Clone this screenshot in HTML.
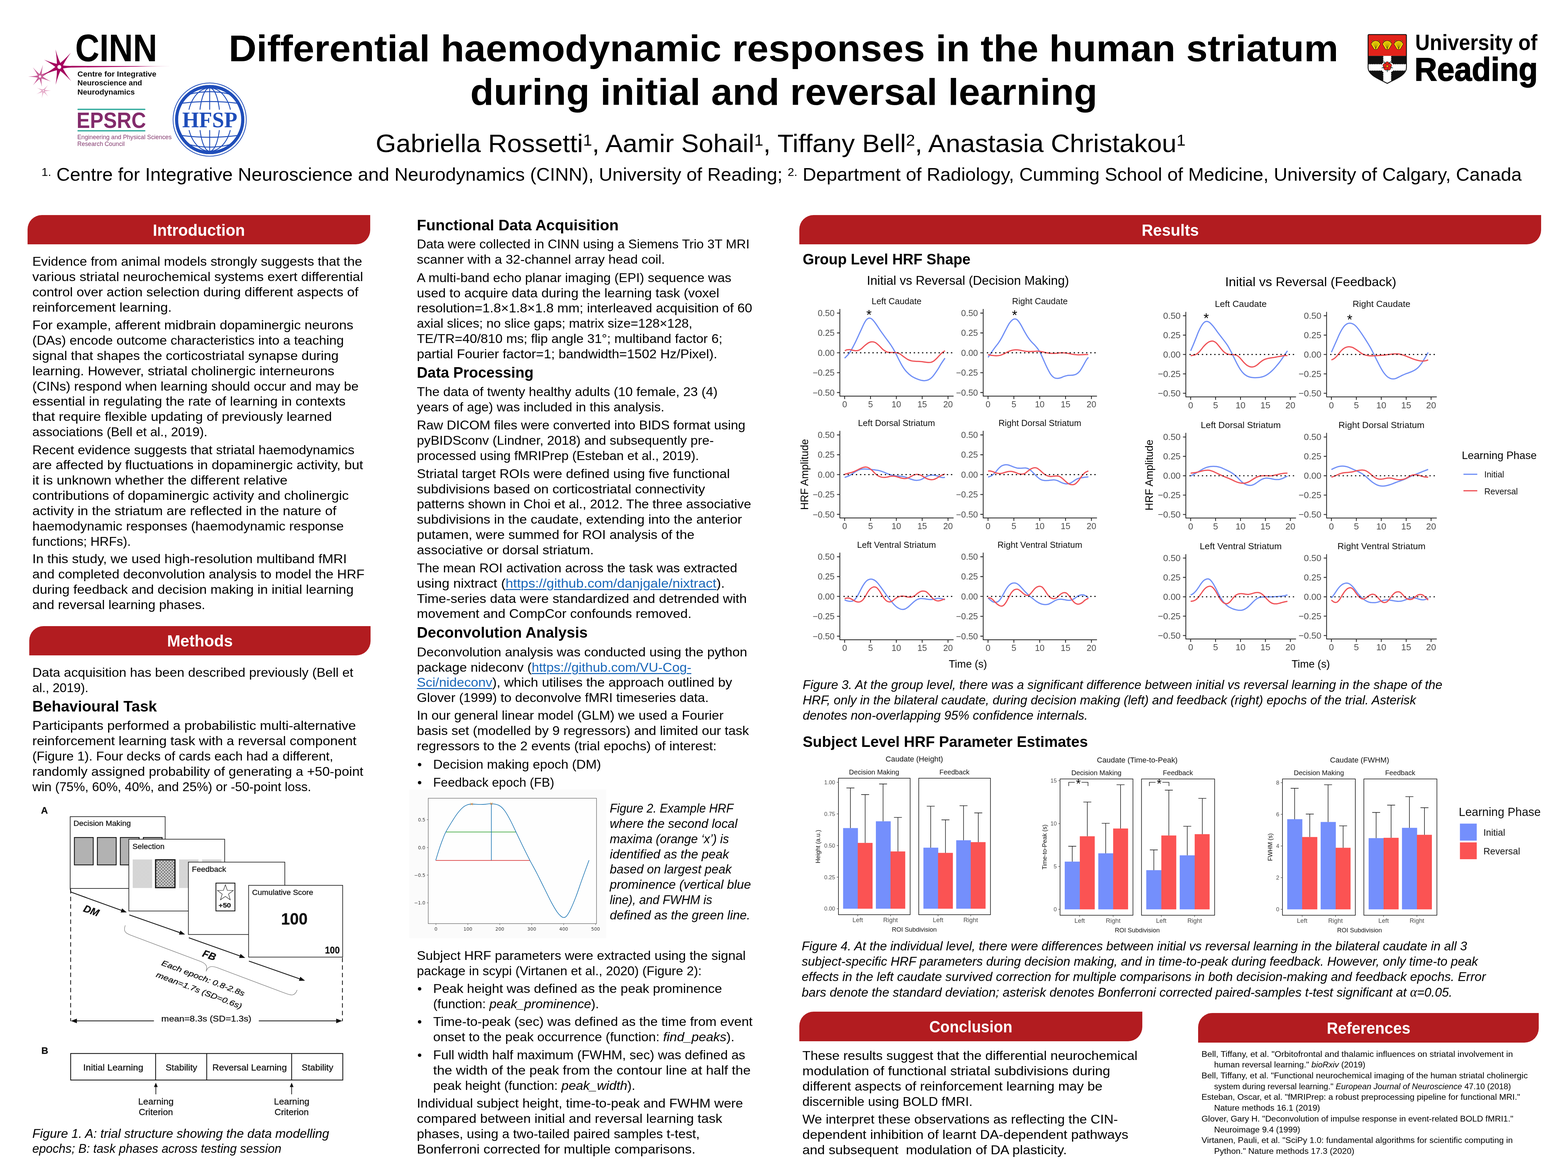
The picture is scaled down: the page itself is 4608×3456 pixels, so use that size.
<!DOCTYPE html>
<html lang="en"><head><meta charset="utf-8">
<title>Differential haemodynamic responses in the human striatum during initial and reversal learning</title>
<style>
html,body{margin:0;padding:0;background:#fff}
#poster{position:relative;width:4608px;height:3456px;overflow:hidden;background:#fff;font-family:"Liberation Sans",sans-serif;color:#000}
.t{position:absolute;white-space:nowrap;line-height:1;transform-origin:0 0;font-family:"Liberation Sans",sans-serif}
.sf{font-family:"Liberation Serif",serif}
.b{font-weight:bold}
.i{font-style:italic}
.w{color:#fff}
.g{color:#4d4d4d}
.lk{color:#1a67b9;text-decoration:underline;text-decoration-thickness:2.5px;text-underline-offset:4px}
.bn{position:absolute;background:#b21c20;border-radius:42px 0 42px 0}
.abs{position:absolute}
sup.s{font-size:62%;vertical-align:baseline;position:relative;top:-0.42em;line-height:0}
svg{position:absolute;overflow:visible}
svg text{font-family:"Liberation Sans",sans-serif}
svg.f1 text{stroke:#111;stroke-width:.4px}

</style></head>
<body>
<div id="poster">
<div class="bn" style="left:81px;top:632px;width:1007.0px;height:86.0px"></div>
<div class="bn" style="left:86px;top:1840px;width:1002.5px;height:85.5px"></div>
<div class="bn" style="left:2349px;top:631.5px;width:2180.0px;height:86.5px"></div>
<div class="bn" style="left:2349px;top:2973px;width:1008.0px;height:86.6px"></div>
<div class="bn" style="left:3521px;top:2977px;width:1001.0px;height:86.7px"></div>
<svg width="4608" height="640" viewBox="0 0 4608 640" style="left:0;top:0">
<defs><linearGradient id="axg" x1="0" x2="1" y1="0" y2="0"><stop offset="0" stop-color="#a3055e"/><stop offset="0.7" stop-color="#b5156f"/><stop offset="1" stop-color="#d67fb0" stop-opacity="0.2"/></linearGradient></defs>
<path d="M129.6,268.5Q132.9,260.8 140.6,250.1Q131.8,259.9 125.0,264.7ZM127.4,269.6Q135.8,267.1 149.6,266.0Q135.8,265.7 127.2,263.6ZM125.0,268.5Q132.2,273.6 141.6,283.9Q133.3,272.7 129.6,264.7ZM124.4,266.0Q124.9,274.9 122.7,288.9Q126.2,275.2 130.2,267.2ZM125.9,263.9Q119.2,269.9 106.8,277.0Q119.8,271.2 128.7,269.3ZM128.6,263.9Q120.6,262.7 108.8,258.1Q120.0,264.0 126.0,269.3Z" fill="#e3a5c5"/><circle cx="127.3" cy="266.6" r="4.7" fill="#e3a5c5"/><circle cx="127.3" cy="266.6" r="1.9" fill="#fff"/>
<path d="M117.7,219.9Q104.5,223.7 82.9,224.9Q104.5,226.1 117.7,229.9ZM121.6,221.9Q110.5,213.7 96.3,197.4Q108.6,215.2 113.8,227.9ZM122.5,226.1Q122.0,212.1 126.1,190.5Q119.7,211.5 112.9,223.7ZM115.6,229.4Q129.3,231.6 149.6,239.6Q130.3,229.4 119.8,220.4ZM113.8,221.8Q108.9,234.0 96.9,250.7Q110.7,235.4 121.6,228.0ZM112.8,225.8Q118.7,236.6 123.3,255.1Q121.0,236.2 122.6,224.0ZM120.0,229.3Q134.3,217.6 160.0,203.0Q133.2,215.5 115.4,220.5Z" fill="#c9609a"/><circle cx="117.7" cy="224.9" r="7.7" fill="#c9609a"/><circle cx="117.7" cy="224.9" r="3.4" fill="#fff"/>
<path d="M182.0,195.1Q171.9,176.8 163.1,145.3Q168.3,177.6 166.8,198.5ZM180.5,201.7Q188.7,182.0 208.3,154.7Q185.8,179.6 168.3,191.9ZM177.7,189.8Q158.2,187.0 129.7,175.5Q156.6,190.4 171.1,203.8ZM166.8,195.2Q168.5,216.3 163.5,249.1Q172.1,217.1 182.0,198.4ZM168.4,201.8Q186.1,213.7 208.9,238.2Q188.9,211.3 180.4,191.8ZM171.0,189.8Q154.8,204.3 125.0,221.0Q156.4,207.7 177.8,203.8Z" fill="#a6065f"/><circle cx="174.4" cy="196.8" r="12.2" fill="#a6065f"/><circle cx="174.4" cy="196.8" r="5.6" fill="#fff"/>
<path d="M178,191.5 C195,193.6 200,193.8 215,193.6 L497.7,194.2 L497.7,194.7 L215,198.4 C200,198.6 195,199.5 178,202Z" fill="url(#axg)"/>
<circle cx="174.4" cy="196.8" r="5.6" fill="#fff"/>
<text x="221" y="179.9" font-size="113" font-weight="bold" textLength="241" lengthAdjust="spacingAndGlyphs">CINN</text>
<g font-size="21.5" font-weight="bold" fill="#0a0a0a"><text x="227.6" y="225.3" textLength="232" lengthAdjust="spacingAndGlyphs">Centre for Integrative</text><text x="227.6" y="251.1" textLength="190" lengthAdjust="spacingAndGlyphs">Neuroscience and</text><text x="227.6" y="278" textLength="168.5" lengthAdjust="spacingAndGlyphs">Neurodynamics</text></g>
<g stroke="#2ca89b" stroke-width="3.7" stroke-linecap="round"><line x1="229.4" y1="321.4" x2="425.5" y2="321.4"/><line x1="229.4" y1="384.3" x2="425.5" y2="384.3"/></g>
<text x="225" y="375.7" font-size="65.5" font-weight="bold" fill="#832b6b" textLength="204" lengthAdjust="spacingAndGlyphs">EPSRC</text>
<g font-size="18.2" fill="#843a6f"><text x="227.3" y="409" textLength="277" lengthAdjust="spacingAndGlyphs">Engineering and Physical Sciences</text><text x="227.3" y="428.5" textLength="139" lengthAdjust="spacingAndGlyphs">Research Council</text></g>
<g fill="none" stroke="#1f4db9"><circle cx="616.2" cy="351.4" r="107.6" stroke-width="2.2"/><circle cx="616.2" cy="351.4" r="97.2" stroke-width="9"/>
<g stroke-width="2.6"><line x1="616.2" y1="258.4" x2="616.2" y2="444.4"/><ellipse cx="616.2" cy="351.4" rx="30" ry="93"/><ellipse cx="616.2" cy="351.4" rx="64" ry="93"/>
<path d="M559.2,276.4 Q616.2,262.4 673.2,276.4"/>
<path d="M535.2,303.4 Q616.2,293.4 697.2,303.4"/>
<path d="M535.2,398.4 Q616.2,408.4 697.2,398.4"/>
<path d="M559.2,425.4 Q616.2,439.4 673.2,425.4"/>
</g></g>
<rect x="523.7" y="322.4" width="185" height="60" fill="#fff"/>
<circle cx="616.2" cy="351.4" r="97.2" stroke-width="9" fill="none" stroke="#1f4db9"/>
<text x="535.5" y="374.2" font-family="Liberation Serif,serif" font-weight="bold" font-size="66" fill="#1f4db9" textLength="162" lengthAdjust="spacingAndGlyphs" style="font-family:'Liberation Serif',serif">HFSP</text>
<clipPath id="shc"><path d="M4023.5,101.5 L4130.2,101.5 Q4133.2,101.5 4133.2,104.5 L4133.2,199 C4133.2,221 4098.85,233 4076.85,245 C4054.85,233 4020.5,221 4020.5,199 L4020.5,104.5 Q4020.5,101.5 4023.5,101.5Z"/></clipPath>
<path d="M4023.5,101.5 L4130.2,101.5 Q4133.2,101.5 4133.2,104.5 L4133.2,199 C4133.2,221 4098.85,233 4076.85,245 C4054.85,233 4020.5,221 4020.5,199 L4020.5,104.5 Q4020.5,101.5 4023.5,101.5Z" fill="#fff"/>
<g clip-path="url(#shc)">
<rect x="4020.5" y="101.5" width="112.69999999999982" height="62.69999999999999" fill="#e2231a"/>
<rect x="4020.5" y="164.2" width="112.69999999999982" height="80.80000000000001" fill="#111"/>
<rect x="4063.0" y="164.2" width="27.5" height="80.80000000000001" fill="#fff"/>
<rect x="4020.5" y="186.5" width="112.69999999999982" height="23.0" fill="#fff"/>
<g fill="#111"><circle cx="4063.0" cy="166.8" r="2.6"/><circle cx="4090.5" cy="166.8" r="2.6"/><circle cx="4063.0" cy="172.0" r="2.6"/><circle cx="4090.5" cy="172.0" r="2.6"/><circle cx="4063.0" cy="177.2" r="2.6"/><circle cx="4090.5" cy="177.2" r="2.6"/><circle cx="4063.0" cy="182.4" r="2.6"/><circle cx="4090.5" cy="182.4" r="2.6"/><circle cx="4063.0" cy="213.6" r="2.6"/><circle cx="4090.5" cy="213.6" r="2.6"/><circle cx="4063.0" cy="218.8" r="2.6"/><circle cx="4090.5" cy="218.8" r="2.6"/><circle cx="4063.0" cy="224.0" r="2.6"/><circle cx="4090.5" cy="224.0" r="2.6"/><circle cx="4063.0" cy="229.2" r="2.6"/><circle cx="4090.5" cy="229.2" r="2.6"/><circle cx="4063.0" cy="234.4" r="2.6"/><circle cx="4090.5" cy="234.4" r="2.6"/><circle cx="4063.0" cy="239.6" r="2.6"/><circle cx="4090.5" cy="239.6" r="2.6"/><circle cx="4063.0" cy="244.8" r="2.6"/><circle cx="4090.5" cy="244.8" r="2.6"/><circle cx="4023.1" cy="186.5" r="2.6"/><circle cx="4023.1" cy="209.5" r="2.6"/><circle cx="4028.3" cy="186.5" r="2.6"/><circle cx="4028.3" cy="209.5" r="2.6"/><circle cx="4033.5" cy="186.5" r="2.6"/><circle cx="4033.5" cy="209.5" r="2.6"/><circle cx="4038.7" cy="186.5" r="2.6"/><circle cx="4038.7" cy="209.5" r="2.6"/><circle cx="4043.9" cy="186.5" r="2.6"/><circle cx="4043.9" cy="209.5" r="2.6"/><circle cx="4049.1" cy="186.5" r="2.6"/><circle cx="4049.1" cy="209.5" r="2.6"/><circle cx="4054.3" cy="186.5" r="2.6"/><circle cx="4054.3" cy="209.5" r="2.6"/><circle cx="4059.5" cy="186.5" r="2.6"/><circle cx="4059.5" cy="209.5" r="2.6"/><circle cx="4095.9" cy="186.5" r="2.6"/><circle cx="4095.9" cy="209.5" r="2.6"/><circle cx="4101.1" cy="186.5" r="2.6"/><circle cx="4101.1" cy="209.5" r="2.6"/><circle cx="4106.3" cy="186.5" r="2.6"/><circle cx="4106.3" cy="209.5" r="2.6"/><circle cx="4111.5" cy="186.5" r="2.6"/><circle cx="4111.5" cy="209.5" r="2.6"/><circle cx="4116.7" cy="186.5" r="2.6"/><circle cx="4116.7" cy="209.5" r="2.6"/><circle cx="4121.9" cy="186.5" r="2.6"/><circle cx="4121.9" cy="209.5" r="2.6"/><circle cx="4127.1" cy="186.5" r="2.6"/><circle cx="4127.1" cy="209.5" r="2.6"/><circle cx="4132.3" cy="186.5" r="2.6"/><circle cx="4132.3" cy="209.5" r="2.6"/></g>
</g>
<g>
<path d="M4076.8,194.5 L4080.4,186.2 L4087.1,180.3 L4083.6,188.5Z" fill="#1f8f7d" stroke="#111" stroke-width="0.8"/>
<path d="M4076.8,194.5 L4085.8,195.3 L4093.5,199.9 L4084.6,199.1Z" fill="#1f8f7d" stroke="#111" stroke-width="0.8"/>
<path d="M4076.8,194.5 L4078.8,203.3 L4076.8,212.0 L4074.9,203.3Z" fill="#1f8f7d" stroke="#111" stroke-width="0.8"/>
<path d="M4076.8,194.5 L4069.1,199.1 L4060.2,199.9 L4067.9,195.3Z" fill="#1f8f7d" stroke="#111" stroke-width="0.8"/>
<path d="M4076.8,194.5 L4070.1,188.5 L4066.6,180.3 L4073.3,186.2Z" fill="#1f8f7d" stroke="#111" stroke-width="0.8"/>
<circle cx="4076.8" cy="187.5" r="6.2" fill="#e2231a" stroke="#111" stroke-width="1"/>
<circle cx="4083.5" cy="192.3" r="6.2" fill="#e2231a" stroke="#111" stroke-width="1"/>
<circle cx="4081.0" cy="200.2" r="6.2" fill="#e2231a" stroke="#111" stroke-width="1"/>
<circle cx="4072.7" cy="200.2" r="6.2" fill="#e2231a" stroke="#111" stroke-width="1"/>
<circle cx="4070.2" cy="192.3" r="6.2" fill="#e2231a" stroke="#111" stroke-width="1"/>
<circle cx="4076.85" cy="194.5" r="6" fill="#e2231a"/><circle cx="4076.85" cy="194.5" r="3" fill="#ffd200" stroke="#111" stroke-width="0.8"/></g>
<path d="M4038.5,145.0 L4029.8,130.4 Q4028.5,126.5 4032.3,125.9 Q4032.3,121.8 4036.0,122.5 Q4037.3,118.8 4040.6,120.7 Q4043.0,117.7 4045.4,120.7 Q4048.7,118.8 4050.0,122.5 Q4053.7,121.8 4053.7,125.9 Q4057.5,126.5 4056.2,130.4 L4047.5,145.0 Z" fill="#ffe100" stroke="#1a1a1a" stroke-width="1.10" stroke-linejoin="round"/><line x1="4043.0" y1="143.5" x2="4033.3" y2="126.8" stroke="#1a1a1a" stroke-width="0.60"/><line x1="4043.0" y1="143.5" x2="4036.7" y2="123.8" stroke="#1a1a1a" stroke-width="0.60"/><line x1="4043.0" y1="143.5" x2="4040.8" y2="122.2" stroke="#1a1a1a" stroke-width="0.60"/><line x1="4043.0" y1="143.5" x2="4045.2" y2="122.2" stroke="#1a1a1a" stroke-width="0.60"/><line x1="4043.0" y1="143.5" x2="4049.3" y2="123.8" stroke="#1a1a1a" stroke-width="0.60"/><line x1="4043.0" y1="143.5" x2="4052.7" y2="126.8" stroke="#1a1a1a" stroke-width="0.60"/><path d="M4034.0,122.5 l-2.5,-4.0 l5.0,1.0Z M4052.0,122.5 l2.5,-4.0 l-5.0,1.0Z" fill="#ffe100" stroke="#1a1a1a" stroke-width="0.80"/>
<path d="M4072.2,145.0 L4063.5,130.4 Q4062.2,126.5 4066.0,125.9 Q4066.0,121.8 4069.7,122.5 Q4071.0,118.8 4074.3,120.7 Q4076.7,117.7 4079.1,120.7 Q4082.4,118.8 4083.7,122.5 Q4087.4,121.8 4087.4,125.9 Q4091.2,126.5 4089.9,130.4 L4081.2,145.0 Z" fill="#ffe100" stroke="#1a1a1a" stroke-width="1.10" stroke-linejoin="round"/><line x1="4076.7" y1="143.5" x2="4067.0" y2="126.8" stroke="#1a1a1a" stroke-width="0.60"/><line x1="4076.7" y1="143.5" x2="4070.4" y2="123.8" stroke="#1a1a1a" stroke-width="0.60"/><line x1="4076.7" y1="143.5" x2="4074.5" y2="122.2" stroke="#1a1a1a" stroke-width="0.60"/><line x1="4076.7" y1="143.5" x2="4078.9" y2="122.2" stroke="#1a1a1a" stroke-width="0.60"/><line x1="4076.7" y1="143.5" x2="4083.0" y2="123.8" stroke="#1a1a1a" stroke-width="0.60"/><line x1="4076.7" y1="143.5" x2="4086.4" y2="126.8" stroke="#1a1a1a" stroke-width="0.60"/><path d="M4067.7,122.5 l-2.5,-4.0 l5.0,1.0Z M4085.7,122.5 l2.5,-4.0 l-5.0,1.0Z" fill="#ffe100" stroke="#1a1a1a" stroke-width="0.80"/>
<path d="M4105.8,145.0 L4097.1,130.4 Q4095.8,126.5 4099.6,125.9 Q4099.6,121.8 4103.3,122.5 Q4104.6,118.8 4107.9,120.7 Q4110.3,117.7 4112.7,120.7 Q4116.0,118.8 4117.3,122.5 Q4121.0,121.8 4121.0,125.9 Q4124.8,126.5 4123.5,130.4 L4114.8,145.0 Z" fill="#ffe100" stroke="#1a1a1a" stroke-width="1.10" stroke-linejoin="round"/><line x1="4110.3" y1="143.5" x2="4100.6" y2="126.8" stroke="#1a1a1a" stroke-width="0.60"/><line x1="4110.3" y1="143.5" x2="4104.0" y2="123.8" stroke="#1a1a1a" stroke-width="0.60"/><line x1="4110.3" y1="143.5" x2="4108.1" y2="122.2" stroke="#1a1a1a" stroke-width="0.60"/><line x1="4110.3" y1="143.5" x2="4112.5" y2="122.2" stroke="#1a1a1a" stroke-width="0.60"/><line x1="4110.3" y1="143.5" x2="4116.6" y2="123.8" stroke="#1a1a1a" stroke-width="0.60"/><line x1="4110.3" y1="143.5" x2="4120.0" y2="126.8" stroke="#1a1a1a" stroke-width="0.60"/><path d="M4101.3,122.5 l-2.5,-4.0 l5.0,1.0Z M4119.3,122.5 l2.5,-4.0 l-5.0,1.0Z" fill="#ffe100" stroke="#1a1a1a" stroke-width="0.80"/>
<path d="M4023.5,101.5 L4130.2,101.5 Q4133.2,101.5 4133.2,104.5 L4133.2,199 C4133.2,221 4098.85,233 4076.85,245 C4054.85,233 4020.5,221 4020.5,199 L4020.5,104.5 Q4020.5,101.5 4023.5,101.5Z" fill="none" stroke="#111" stroke-width="2.6"/>
<text x="4159" y="147.4" font-size="65" font-weight="bold" textLength="359" lengthAdjust="spacingAndGlyphs">University of</text>
<text x="4157" y="236.6" font-size="96" font-weight="bold" stroke="#000" stroke-width="2.2" textLength="362" lengthAdjust="spacingAndGlyphs">Reading</text>
</svg>
<svg width="1152" height="1000" viewBox="0 2340 1152 1000" class="f1" style="left:0;top:2340px">
<defs><pattern id="pd" width="4" height="4" patternUnits="userSpaceOnUse"><rect width="4" height="4" fill="#c4c4c4"/><circle cx="1" cy="1" r="0.9" fill="#8f8f8f"/><circle cx="3" cy="3" r="0.9" fill="#8f8f8f"/></pattern><pattern id="pl" width="4" height="4" patternUnits="userSpaceOnUse"><rect width="4" height="4" fill="#dcdcdc"/><circle cx="1" cy="1" r="0.9" fill="#c9c9c9"/><circle cx="3" cy="3" r="0.9" fill="#c9c9c9"/></pattern><pattern id="ps" width="9" height="9" patternUnits="userSpaceOnUse"><rect width="9" height="9" fill="#d0d0d0"/><circle cx="2.2" cy="2.2" r="1.9" fill="#555"/><circle cx="6.7" cy="6.7" r="1.9" fill="#555"/><circle cx="6.7" cy="2.2" r="1" fill="#999"/><circle cx="2.2" cy="6.7" r="1" fill="#999"/></pattern><marker id="ah" markerWidth="9" markerHeight="7" refX="8.5" refY="3.5" orient="auto" markerUnits="userSpaceOnUse" viewBox="0 0 9 7"><path d="M0,0 L9,3.5 L0,7Z"/></marker></defs>
<text x="120.5" y="2391.3" font-size="28" font-weight="bold" fill="#111">A</text>
<rect x="206.3" y="2399.9" width="279.1" height="211" fill="#fff" stroke="#111" stroke-width="1.8"/>
<text x="216" y="2427.3" font-size="22.3" fill="#111" textLength="168.5" lengthAdjust="spacingAndGlyphs">Decision Making</text>
<rect x="218.6" y="2461.2" width="55.4" height="80.6" fill="url(#pd)" stroke="#111" stroke-width="2.4"/>
<rect x="286.1" y="2461.2" width="55.4" height="80.6" fill="url(#pd)" stroke="#111" stroke-width="2.4"/>
<rect x="353.6" y="2461.2" width="55.4" height="80.6" fill="url(#pd)" stroke="#111" stroke-width="2.4"/>
<rect x="421.1" y="2461.2" width="55.4" height="80.6" fill="url(#pd)" stroke="#111" stroke-width="2.4"/>
<rect x="378.6" y="2466.3" width="281.7" height="211" fill="#fff" stroke="#111" stroke-width="1.8"/>
<text x="389.2" y="2494.5" font-size="22.3" fill="#111" textLength="94.2" lengthAdjust="spacingAndGlyphs">Selection</text>
<rect x="390" y="2525.8" width="57.2" height="83.8" fill="url(#pl)"/>
<rect x="526.2" y="2525.8" width="57.2" height="83.8" fill="url(#pl)"/>
<rect x="593.9" y="2525.8" width="57.2" height="83.8" fill="url(#pl)"/>
<rect x="457.2" y="2526.8" width="57" height="81.8" fill="url(#ps)" stroke="#111" stroke-width="3.4"/>
<rect x="553.6" y="2533.6" width="283.4" height="212.7" fill="#fff" stroke="#111" stroke-width="1.8"/>
<text x="564" y="2561.8" font-size="22.3" fill="#111" textLength="100.5" lengthAdjust="spacingAndGlyphs">Feedback</text>
<rect x="634.6" y="2595.2" width="55.8" height="81.8" fill="#fff" stroke="#111" stroke-width="2.4"/>
<polygon points="662.3,2600.0 668.1,2616.6 685.6,2616.9 671.6,2627.5 676.7,2644.3 662.3,2634.3 647.9,2644.3 653.0,2627.5 639.0,2616.9 656.5,2616.6" fill="#fff" stroke="#111" stroke-width="1.3"/>
<text x="660.6" y="2666.9" font-size="17.5" font-weight="bold" fill="#222" text-anchor="middle" textLength="36.5" lengthAdjust="spacingAndGlyphs">+50</text>
<rect x="730.6" y="2601.8" width="276.5" height="210.9" fill="#fff" stroke="#111" stroke-width="1.8"/>
<text x="740.7" y="2630" font-size="22.3" fill="#111" textLength="179.7" lengthAdjust="spacingAndGlyphs">Cumulative Score</text>
<text x="865" y="2717.4" font-size="48" font-weight="bold" fill="#111" text-anchor="middle" textLength="78" lengthAdjust="spacingAndGlyphs">100</text>
<text x="976.7" y="2801.8" font-size="29" font-weight="bold" fill="#111" text-anchor="middle" textLength="43.5" lengthAdjust="spacingAndGlyphs">100</text>
<g stroke="#111" stroke-width="2.4" fill="#111">
<path d="M206.3,2611.5 L208.5,2621.7 L366,2678.7" fill="none"/>
<line x1="380" y1="2688.6" x2="537.5" y2="2744"/>
<line x1="554.9" y1="2755.8" x2="714.3" y2="2812.6"/>
<line x1="731.5" y1="2824.4" x2="890" y2="2879.9"/>
</g>
<polygon points="372.6,2681.2 354.5,2681.5 358.7,2669.6" fill="#111"/>
<polygon points="544,2746.3 525.9,2746.6 530.1,2734.7" fill="#111"/>
<polygon points="720.7,2814.9 702.6,2815.2 706.8,2803.3" fill="#111"/>
<polygon points="896.4,2882.1 878.3,2882.4 882.5,2870.5" fill="#111"/>
<text transform="translate(268.4,2676) rotate(20)" font-size="30" font-weight="bold" font-style="italic" text-anchor="middle" y="10.5" fill="#111">DM</text>
<text transform="translate(615.2,2807) rotate(20)" font-size="30" font-weight="bold" font-style="italic" text-anchor="middle" y="10.5" fill="#111">FB</text>
<path transform="translate(368.2,2719.4) rotate(20.6)" fill="none" stroke="#555" stroke-width="1.1" d="M0,0 C0,21.5 12,21.5 30,21.5 L243.8,21.5 C261.8,21.5 269.8,27.5 269.8,43.0 C269.8,27.5 277.8,21.5 295.8,21.5 L509.6,21.5 C527.6,21.5 539.6,21.5 539.6,0"/>
<text transform="translate(597,2874.3) rotate(20.8)" font-size="22.5" font-style="italic" text-anchor="middle" y="8" fill="#111" textLength="259" lengthAdjust="spacingAndGlyphs">Each epoch: 0.8-2.8s</text>
<text transform="translate(585.2,2910.3) rotate(20.8)" font-size="22.5" font-style="italic" text-anchor="middle" y="8" fill="#111" textLength="268" lengthAdjust="spacingAndGlyphs">mean=1.7s (SD=0.6s)</text>
<g stroke="#111" stroke-width="2.3" stroke-dasharray="13 9.3"><line x1="207.6" y1="2613" x2="207.6" y2="3001"/><line x1="1006.3" y1="2814.5" x2="1006.3" y2="3001"/></g>
<g stroke="#111" stroke-width="2.2"><line x1="222" y1="3000.2" x2="452.4" y2="3000.2"/><line x1="760.6" y1="3000.2" x2="991" y2="3000.2"/></g>
<polygon points="208.3,3000.2 226,2993.5 226,3007" fill="#111"/><polygon points="1005.5,3000.2 988,2993.5 988,3007" fill="#111"/>
<text x="606.5" y="3001.5" font-size="23.5" text-anchor="middle" fill="#111" textLength="264.8" lengthAdjust="spacingAndGlyphs">mean=8.3s (SD=1.3s)</text>
<text x="121.5" y="3096.7" font-size="28" font-weight="bold" fill="#111">B</text>
<rect x="207.7" y="3096" width="799.7" height="78" fill="#fff" stroke="#111" stroke-width="2.4"/>
<g stroke="#111" stroke-width="2.4"><line x1="457.3" y1="3096" x2="457.3" y2="3174"/><line x1="607.5" y1="3096" x2="607.5" y2="3174"/><line x1="857.1" y1="3096" x2="857.1" y2="3174"/></g>
<text x="332.8" y="3146.3" font-size="25.5" text-anchor="middle" fill="#111" textLength="176.5" lengthAdjust="spacingAndGlyphs">Initial Learning</text>
<text x="533.1" y="3146.3" font-size="25.5" text-anchor="middle" fill="#111" textLength="92.9" lengthAdjust="spacingAndGlyphs">Stability</text>
<text x="733.4" y="3146.3" font-size="25.5" text-anchor="middle" fill="#111" textLength="219" lengthAdjust="spacingAndGlyphs">Reversal Learning</text>
<text x="933" y="3146.3" font-size="25.5" text-anchor="middle" fill="#111" textLength="92.9" lengthAdjust="spacingAndGlyphs">Stability</text>
<line x1="458" y1="3216" x2="458" y2="3192" stroke="#111" stroke-width="2"/><polygon points="458,3181.8 452.5,3194.5 463.5,3194.5" fill="#111"/>
<text x="458" y="3245.5" font-size="25.5" text-anchor="middle" fill="#111" textLength="104.2" lengthAdjust="spacingAndGlyphs">Learning</text>
<text x="458" y="3277.4" font-size="25.5" text-anchor="middle" fill="#111" textLength="100.7" lengthAdjust="spacingAndGlyphs">Criterion</text>
<line x1="857.1" y1="3216" x2="857.1" y2="3192" stroke="#111" stroke-width="2"/><polygon points="857.1,3181.8 851.6,3194.5 862.6,3194.5" fill="#111"/>
<text x="857.1" y="3245.5" font-size="25.5" text-anchor="middle" fill="#111" textLength="104.2" lengthAdjust="spacingAndGlyphs">Learning</text>
<text x="857.1" y="3277.4" font-size="25.5" text-anchor="middle" fill="#111" textLength="100.7" lengthAdjust="spacingAndGlyphs">Criterion</text>
</svg>
<svg width="640" height="480" viewBox="1180 2300 640 480" style="left:1180px;top:2300px">
<rect x="1202.4" y="2320.5" width="579.6" height="436.5" fill="#fbfbfb"/>
<rect x="1258.5" y="2345.9" width="494.5" height="368.4" fill="#fefefe" stroke="#3a3a3a" stroke-width="1.1"/>
<line x1="1281.1" y1="2714.3" x2="1281.1" y2="2718.3" stroke="#3a3a3a" stroke-width="1"/>
<text x="1281.1" y="2735.3" text-anchor="middle" font-family="DejaVu Sans,sans-serif" style="font-family:'DejaVu Sans',sans-serif" font-size="13.6" fill="#3a3a3a">0</text>
<line x1="1374.9" y1="2714.3" x2="1374.9" y2="2718.3" stroke="#3a3a3a" stroke-width="1"/>
<text x="1374.9" y="2735.3" text-anchor="middle" font-family="DejaVu Sans,sans-serif" style="font-family:'DejaVu Sans',sans-serif" font-size="13.6" fill="#3a3a3a">100</text>
<line x1="1468.8" y1="2714.3" x2="1468.8" y2="2718.3" stroke="#3a3a3a" stroke-width="1"/>
<text x="1468.8" y="2735.3" text-anchor="middle" font-family="DejaVu Sans,sans-serif" style="font-family:'DejaVu Sans',sans-serif" font-size="13.6" fill="#3a3a3a">200</text>
<line x1="1562.6" y1="2714.3" x2="1562.6" y2="2718.3" stroke="#3a3a3a" stroke-width="1"/>
<text x="1562.6" y="2735.3" text-anchor="middle" font-family="DejaVu Sans,sans-serif" style="font-family:'DejaVu Sans',sans-serif" font-size="13.6" fill="#3a3a3a">300</text>
<line x1="1656.5" y1="2714.3" x2="1656.5" y2="2718.3" stroke="#3a3a3a" stroke-width="1"/>
<text x="1656.5" y="2735.3" text-anchor="middle" font-family="DejaVu Sans,sans-serif" style="font-family:'DejaVu Sans',sans-serif" font-size="13.6" fill="#3a3a3a">400</text>
<line x1="1750.3" y1="2714.3" x2="1750.3" y2="2718.3" stroke="#3a3a3a" stroke-width="1"/>
<text x="1750.3" y="2735.3" text-anchor="middle" font-family="DejaVu Sans,sans-serif" style="font-family:'DejaVu Sans',sans-serif" font-size="13.6" fill="#3a3a3a">500</text>
<line x1="1254.5" y1="2408.8" x2="1258.5" y2="2408.8" stroke="#3a3a3a" stroke-width="1"/>
<text x="1250" y="2413.8" text-anchor="end" font-family="DejaVu Sans,sans-serif" style="font-family:'DejaVu Sans',sans-serif" font-size="13.6" fill="#3a3a3a">0.5</text>
<line x1="1254.5" y1="2490.8" x2="1258.5" y2="2490.8" stroke="#3a3a3a" stroke-width="1"/>
<text x="1250" y="2495.8" text-anchor="end" font-family="DejaVu Sans,sans-serif" style="font-family:'DejaVu Sans',sans-serif" font-size="13.6" fill="#3a3a3a">0.0</text>
<line x1="1254.5" y1="2571.7" x2="1258.5" y2="2571.7" stroke="#3a3a3a" stroke-width="1"/>
<text x="1250" y="2576.7" text-anchor="end" font-family="DejaVu Sans,sans-serif" style="font-family:'DejaVu Sans',sans-serif" font-size="13.6" fill="#3a3a3a">−0.5</text>
<line x1="1254.5" y1="2653.1" x2="1258.5" y2="2653.1" stroke="#3a3a3a" stroke-width="1"/>
<text x="1250" y="2658.1" text-anchor="end" font-family="DejaVu Sans,sans-serif" style="font-family:'DejaVu Sans',sans-serif" font-size="13.6" fill="#3a3a3a">−1.0</text>
<line x1="1310.1" y1="2445.2" x2="1516.5" y2="2445.2" stroke="#2ca02c" stroke-width="1.8"/>
<line x1="1280.5" y1="2528.6" x2="1557.1" y2="2528.6" stroke="#d62728" stroke-width="1.8"/>
<line x1="1443.9" y1="2362.4" x2="1443.9" y2="2528.1" stroke="#1f77b4" stroke-width="1.8"/>
<path d="M1280.5,2528.1C1282.2,2522.7 1287.2,2506.0 1290.5,2496.0C1293.8,2486.1 1297.1,2476.6 1300.4,2468.2C1303.7,2459.7 1305.5,2454.1 1310.1,2445.2C1314.7,2436.4 1322.3,2424.1 1328.0,2414.9C1333.8,2405.7 1339.0,2397.2 1344.6,2390.0C1350.1,2382.9 1356.1,2376.3 1361.1,2372.1C1366.2,2367.9 1370.7,2366.2 1374.9,2364.7C1379.2,2363.1 1380.5,2363.1 1386.5,2363.0C1392.5,2362.9 1404.0,2364.0 1410.8,2364.1C1417.6,2364.2 1421.9,2363.9 1427.4,2363.5C1432.9,2363.2 1437.5,2361.4 1443.9,2361.9C1450.4,2362.4 1459.6,2363.3 1466.0,2366.6C1472.5,2369.9 1477.1,2374.6 1482.6,2381.8C1488.1,2388.9 1493.5,2398.8 1499.1,2409.4C1504.8,2419.9 1510.5,2432.8 1516.5,2445.2C1522.5,2457.7 1528.3,2470.1 1535.0,2483.9C1541.8,2497.7 1550.2,2514.7 1557.1,2528.1C1564.0,2541.4 1569.5,2550.6 1576.4,2563.9C1583.3,2577.3 1591.1,2593.4 1598.5,2608.1C1605.9,2622.8 1614.1,2640.3 1620.6,2652.3C1627.0,2664.2 1632.5,2673.2 1637.1,2679.9C1641.7,2686.5 1645.0,2689.5 1648.2,2692.3C1651.4,2695.0 1653.7,2696.4 1656.5,2696.4C1659.2,2696.4 1661.5,2696.0 1664.7,2692.3C1668.0,2688.6 1671.2,2683.8 1675.8,2674.3C1680.4,2664.9 1686.8,2650.0 1692.3,2635.7C1697.9,2621.4 1702.5,2606.7 1708.9,2588.8C1715.3,2570.8 1727.3,2538.2 1731.0,2528.1" fill="none" stroke="#1f77b4" stroke-width="1.8"/>
<path d="M1383.2,2359.7 l6.6,6.6 M1383.2,2366.3 l6.6,-6.6" stroke="#ff7f0e" stroke-width="1.2" fill="none"/>
<path d="M1440.6,2358.6 l6.6,6.6 M1440.6,2365.2 l6.6,-6.6" stroke="#ff7f0e" stroke-width="1.2" fill="none"/>
</svg>
<svg width="2304" height="1400" viewBox="2304 780 2304 1400" style="left:2304px;top:780px">
<path d="M2482.2,1052.6C2484.6,1049.9 2492.0,1043.7 2497.0,1036.5C2502.0,1029.2 2507.1,1018.9 2512.2,1008.9C2517.2,999.0 2522.9,986.1 2527.3,976.6C2531.8,967.2 2535.6,958.1 2538.7,952.0C2541.9,945.8 2543.8,942.5 2546.3,939.6C2548.9,936.8 2551.4,935.3 2553.9,934.9C2556.5,934.5 2558.4,934.6 2561.5,937.2C2564.7,939.7 2568.5,944.1 2572.9,950.1C2577.3,956.0 2583.0,965.6 2588.1,972.8C2593.2,980.1 2598.2,986.8 2603.3,993.7C2608.4,1000.7 2614.1,1008.0 2618.5,1014.6C2622.9,1021.3 2626.1,1026.6 2629.9,1033.6C2633.7,1040.6 2637.5,1049.1 2641.3,1056.4C2645.1,1063.7 2648.9,1071.3 2652.7,1077.3C2656.5,1083.3 2659.6,1087.7 2664.1,1092.5C2668.5,1097.2 2674.2,1102.3 2679.2,1105.8C2684.3,1109.2 2690.0,1111.5 2694.4,1113.4C2698.9,1115.3 2702.0,1116.3 2705.8,1117.2C2709.6,1118.0 2713.4,1118.8 2717.2,1118.7C2721.0,1118.5 2724.8,1118.0 2728.6,1116.2C2732.4,1114.4 2735.6,1112.6 2740.0,1107.7C2744.4,1102.8 2750.8,1093.4 2755.2,1086.8C2759.6,1080.1 2762.9,1073.5 2766.6,1067.8C2770.2,1062.1 2775.3,1055.1 2777.0,1052.6" fill="none" stroke="#708ff6" stroke-width="3.5" stroke-linejoin="round"/>
<path d="M2482.7,1030.8C2483.8,1030.3 2487.0,1028.4 2489.4,1027.9C2491.7,1027.4 2494.1,1027.3 2497.0,1027.5C2499.8,1027.8 2503.3,1028.9 2506.5,1029.4C2509.6,1030.0 2513.1,1030.8 2515.9,1030.8C2518.8,1030.8 2521.0,1030.4 2523.5,1029.4C2526.1,1028.5 2528.0,1027.5 2531.1,1025.1C2534.3,1022.6 2538.7,1017.7 2542.5,1014.6C2546.3,1011.6 2550.4,1008.3 2553.9,1006.6C2557.4,1005.0 2560.3,1004.5 2563.4,1004.6C2566.6,1004.6 2569.4,1005.0 2572.9,1007.0C2576.4,1009.0 2580.5,1013.0 2584.3,1016.5C2588.1,1020.0 2591.9,1024.9 2595.7,1027.9C2599.5,1030.9 2603.3,1033.2 2607.1,1034.6C2610.9,1035.9 2614.7,1035.7 2618.5,1035.9C2622.3,1036.1 2626.7,1035.7 2629.9,1035.9C2633.0,1036.1 2634.9,1036.3 2637.5,1037.0C2640.0,1037.8 2641.9,1038.3 2645.1,1040.3C2648.2,1042.2 2652.7,1046.1 2656.5,1048.8C2660.3,1051.5 2664.1,1054.4 2667.8,1056.4C2671.6,1058.4 2675.4,1059.7 2679.2,1060.6C2683.0,1061.5 2686.2,1061.4 2690.6,1061.7C2695.1,1062.0 2701.4,1062.1 2705.8,1062.5C2710.3,1062.8 2713.4,1063.5 2717.2,1064.0C2721.0,1064.5 2725.4,1065.2 2728.6,1065.3C2731.8,1065.4 2733.7,1065.3 2736.2,1064.6C2738.7,1063.9 2740.6,1063.4 2743.8,1061.1C2747.0,1058.8 2751.4,1054.5 2755.2,1050.7C2759.0,1046.9 2762.9,1041.7 2766.6,1038.4C2770.2,1035.0 2775.3,1032.0 2777.0,1030.8" fill="none" stroke="#ef5156" stroke-width="3.5" stroke-linejoin="round"/>
<line x1="2478.7" y1="1036.8" x2="2799.8" y2="1036.8" stroke="#000" stroke-width="2.9" stroke-dasharray="3.9 8.25"/>
<path d="M2468.1,909.2 V1164.2 H2801.3" fill="none" stroke="#1a1a1a" stroke-width="2.2" stroke-linecap="square"/>
<text x="2452.7" y="929.1" font-size="25.4" fill="#4d4d4d" text-anchor="end">0.50</text>
<text x="2452.7" y="987.4" font-size="25.4" fill="#4d4d4d" text-anchor="end">0.25</text>
<text x="2452.7" y="1045.8" font-size="25.4" fill="#4d4d4d" text-anchor="end">0.00</text>
<text x="2452.7" y="1104.2" font-size="25.4" fill="#4d4d4d" text-anchor="end">−0.25</text>
<text x="2452.7" y="1162.6" font-size="25.4" fill="#4d4d4d" text-anchor="end">−0.50</text>
<text x="2482.2" y="1197.4" font-size="25.4" fill="#4d4d4d" text-anchor="middle">0</text>
<text x="2558.2" y="1197.4" font-size="25.4" fill="#4d4d4d" text-anchor="middle">5</text>
<text x="2634.1" y="1197.4" font-size="25.4" fill="#4d4d4d" text-anchor="middle">10</text>
<text x="2710.1" y="1197.4" font-size="25.4" fill="#4d4d4d" text-anchor="middle">15</text>
<text x="2786.0" y="1197.4" font-size="25.4" fill="#4d4d4d" text-anchor="middle">20</text>
<path d="M2459.7,920.1 H2468.1M2459.7,978.4 H2468.1M2459.7,1036.8 H2468.1M2459.7,1095.2 H2468.1M2459.7,1153.6 H2468.1M2482.2,1164.2 v8.6M2558.2,1164.2 v8.6M2634.1,1164.2 v8.6M2710.1,1164.2 v8.6M2786.0,1164.2 v8.6" stroke="#333" stroke-width="2.6" fill="none"/>
<text x="2634.7" y="893.9" font-size="25.6" fill="#111" text-anchor="middle">Left Caudate</text>
<text x="2553.9" y="938.7" font-size="40" fill="#000" text-anchor="middle">*</text>
<path d="M2903.7,1050.3C2905.6,1047.5 2911.6,1038.6 2915.1,1033.6C2918.5,1028.6 2921.4,1024.6 2924.6,1020.3C2927.7,1016.0 2930.9,1012.6 2934.1,1008.0C2937.2,1003.4 2940.1,999.0 2943.5,992.8C2947.0,986.6 2951.1,978.1 2954.9,970.9C2958.7,963.8 2962.8,955.3 2966.3,950.1C2969.8,944.8 2973.1,941.8 2975.8,939.6C2978.5,937.5 2980.3,937.2 2982.5,937.2C2984.7,937.2 2986.4,937.2 2989.1,939.6C2991.8,942.1 2995.1,946.4 2998.6,952.0C3002.1,957.5 3006.2,966.2 3010.0,972.8C3013.8,979.5 3017.9,986.6 3021.4,991.8C3024.9,997.1 3027.7,1000.5 3030.9,1004.2C3034.1,1007.8 3037.2,1010.2 3040.4,1013.7C3043.5,1017.2 3047.0,1021.1 3049.9,1025.1C3052.7,1029.0 3054.6,1031.9 3057.5,1037.4C3060.3,1042.9 3063.8,1051.3 3067.0,1058.3C3070.1,1065.3 3073.0,1072.2 3076.5,1079.2C3079.9,1086.1 3084.4,1095.0 3087.8,1100.1C3091.3,1105.1 3094.2,1107.6 3097.3,1109.6C3100.5,1111.6 3103.7,1111.9 3106.8,1112.0C3110.0,1112.2 3113.2,1111.4 3116.3,1110.5C3119.5,1109.6 3122.7,1107.8 3125.8,1106.7C3129.0,1105.6 3132.2,1104.5 3135.3,1103.9C3138.5,1103.2 3141.6,1103.2 3144.8,1102.9C3148.0,1102.7 3151.1,1103.0 3154.3,1102.3C3157.5,1101.7 3160.6,1101.1 3163.8,1099.1C3167.0,1097.2 3170.1,1094.5 3173.3,1090.6C3176.5,1086.6 3179.6,1080.8 3182.8,1075.4C3185.9,1070.0 3189.7,1062.5 3192.3,1058.3C3194.9,1054.1 3197.5,1051.6 3198.5,1050.3" fill="none" stroke="#708ff6" stroke-width="3.5" stroke-linejoin="round"/>
<path d="M2903.7,1042.2C2905.9,1042.6 2912.8,1044.1 2917.0,1044.6C2921.1,1045.2 2924.6,1045.7 2928.4,1045.6C2932.2,1045.5 2935.9,1045.0 2939.7,1044.1C2943.5,1043.1 2947.3,1041.4 2951.1,1039.7C2954.9,1037.9 2958.7,1035.3 2962.5,1033.6C2966.3,1031.9 2970.3,1030.4 2973.9,1029.4C2977.6,1028.5 2980.6,1028.0 2984.4,1027.9C2988.2,1027.8 2992.4,1028.2 2996.7,1028.9C3001.0,1029.5 3005.6,1031.0 3010.0,1031.7C3014.4,1032.4 3018.9,1032.9 3023.3,1033.0C3027.7,1033.2 3032.2,1032.8 3036.6,1032.7C3041.0,1032.5 3045.8,1031.9 3049.9,1032.1C3054.0,1032.2 3057.2,1032.9 3061.3,1033.6C3065.4,1034.3 3070.1,1035.7 3074.6,1036.5C3079.0,1037.2 3083.4,1038.0 3087.8,1038.4C3092.3,1038.7 3096.7,1038.6 3101.1,1038.4C3105.6,1038.1 3110.0,1037.2 3114.4,1037.0C3118.9,1036.8 3123.3,1036.7 3127.7,1037.0C3132.2,1037.3 3136.6,1038.2 3141.0,1038.9C3145.4,1039.7 3149.9,1040.9 3154.3,1041.6C3158.7,1042.2 3162.8,1042.6 3167.6,1042.7C3172.3,1042.8 3177.7,1042.3 3182.8,1042.2C3187.8,1042.0 3195.4,1041.8 3198.0,1041.8" fill="none" stroke="#ef5156" stroke-width="3.5" stroke-linejoin="round"/>
<line x1="2900.1" y1="1036.8" x2="3221.1" y2="1036.8" stroke="#000" stroke-width="2.9" stroke-dasharray="3.9 8.25"/>
<path d="M2889.4,909.2 V1164.2 H3222.7" fill="none" stroke="#1a1a1a" stroke-width="2.2" stroke-linecap="square"/>
<text x="2874.0" y="929.1" font-size="25.4" fill="#4d4d4d" text-anchor="end">0.50</text>
<text x="2874.0" y="987.4" font-size="25.4" fill="#4d4d4d" text-anchor="end">0.25</text>
<text x="2874.0" y="1045.8" font-size="25.4" fill="#4d4d4d" text-anchor="end">0.00</text>
<text x="2874.0" y="1104.2" font-size="25.4" fill="#4d4d4d" text-anchor="end">−0.25</text>
<text x="2874.0" y="1162.6" font-size="25.4" fill="#4d4d4d" text-anchor="end">−0.50</text>
<text x="2903.6" y="1197.4" font-size="25.4" fill="#4d4d4d" text-anchor="middle">0</text>
<text x="2979.5" y="1197.4" font-size="25.4" fill="#4d4d4d" text-anchor="middle">5</text>
<text x="3055.5" y="1197.4" font-size="25.4" fill="#4d4d4d" text-anchor="middle">10</text>
<text x="3131.4" y="1197.4" font-size="25.4" fill="#4d4d4d" text-anchor="middle">15</text>
<text x="3207.4" y="1197.4" font-size="25.4" fill="#4d4d4d" text-anchor="middle">20</text>
<path d="M2881.0,920.1 H2889.4M2881.0,978.4 H2889.4M2881.0,1036.8 H2889.4M2881.0,1095.2 H2889.4M2881.0,1153.6 H2889.4M2903.6,1164.2 v8.6M2979.5,1164.2 v8.6M3055.5,1164.2 v8.6M3131.4,1164.2 v8.6M3207.4,1164.2 v8.6" stroke="#333" stroke-width="2.6" fill="none"/>
<text x="3056.0" y="893.9" font-size="25.6" fill="#111" text-anchor="middle">Right Caudate</text>
<text x="2981.9" y="939.6" font-size="40" fill="#000" text-anchor="middle">*</text>
<path d="M2482.2,1403.0C2484.0,1402.4 2489.4,1400.9 2493.2,1399.2C2496.9,1397.5 2500.8,1394.9 2504.6,1392.6C2508.4,1390.2 2512.2,1387.1 2515.9,1385.0C2519.7,1382.8 2523.5,1380.9 2527.3,1379.8C2531.1,1378.7 2534.9,1378.5 2538.7,1378.3C2542.5,1378.1 2546.3,1378.4 2550.1,1378.7C2553.9,1378.9 2557.7,1379.4 2561.5,1379.8C2565.3,1380.2 2569.1,1380.6 2572.9,1381.2C2576.7,1381.7 2580.5,1382.1 2584.3,1383.1C2588.1,1384.0 2591.9,1385.4 2595.7,1386.9C2599.5,1388.3 2603.3,1390.1 2607.1,1391.6C2610.9,1393.1 2614.7,1394.7 2618.5,1395.8C2622.3,1396.9 2626.1,1397.7 2629.9,1398.3C2633.7,1398.8 2637.5,1398.9 2641.3,1399.2C2645.1,1399.5 2648.9,1399.5 2652.7,1400.2C2656.5,1400.8 2660.3,1401.7 2664.1,1403.0C2667.8,1404.3 2671.6,1406.4 2675.4,1407.7C2679.2,1409.1 2683.4,1410.3 2686.8,1411.0C2690.3,1411.6 2693.2,1411.8 2696.3,1411.5C2699.5,1411.3 2702.7,1410.8 2705.8,1409.6C2709.0,1408.5 2712.2,1406.6 2715.3,1404.9C2718.5,1403.2 2721.6,1400.6 2724.8,1399.2C2728.0,1397.8 2731.1,1396.8 2734.3,1396.4C2737.5,1395.9 2740.6,1396.0 2743.8,1396.4C2747.0,1396.7 2750.1,1397.3 2753.3,1398.3C2756.5,1399.2 2759.9,1401.2 2762.8,1402.1C2765.6,1402.9 2768.0,1403.2 2770.4,1403.4C2772.8,1403.5 2775.9,1403.1 2777.0,1403.0" fill="none" stroke="#708ff6" stroke-width="3.5" stroke-linejoin="round"/>
<path d="M2482.2,1393.9C2484.0,1393.3 2489.4,1391.7 2493.2,1390.7C2496.9,1389.6 2500.8,1389.1 2504.6,1387.8C2508.4,1386.5 2512.2,1384.8 2515.9,1383.1C2519.7,1381.3 2523.9,1378.9 2527.3,1377.4C2530.8,1375.8 2534.0,1374.4 2536.8,1373.6C2539.7,1372.8 2541.9,1372.5 2544.4,1372.6C2547.0,1372.8 2549.2,1373.1 2552.0,1374.5C2554.9,1375.9 2558.4,1378.5 2561.5,1381.2C2564.7,1383.9 2567.8,1387.8 2571.0,1390.7C2574.2,1393.5 2577.3,1396.4 2580.5,1398.3C2583.7,1400.2 2586.8,1401.3 2590.0,1402.1C2593.2,1402.8 2596.3,1403.1 2599.5,1403.0C2602.7,1402.9 2605.8,1402.2 2609.0,1401.7C2612.2,1401.1 2615.3,1399.9 2618.5,1399.6C2621.6,1399.2 2624.8,1399.2 2628.0,1399.6C2631.1,1399.9 2634.0,1400.8 2637.5,1401.7C2640.9,1402.6 2645.4,1404.1 2648.9,1404.9C2652.3,1405.7 2655.2,1406.4 2658.4,1406.4C2661.5,1406.4 2664.7,1405.9 2667.8,1404.9C2671.0,1403.9 2674.2,1401.7 2677.3,1400.2C2680.5,1398.6 2683.8,1396.4 2686.8,1395.4C2689.8,1394.4 2692.2,1393.7 2695.4,1393.9C2698.5,1394.0 2702.5,1395.0 2705.8,1396.4C2709.1,1397.7 2712.2,1400.2 2715.3,1402.1C2718.5,1403.9 2721.6,1405.9 2724.8,1407.2C2728.0,1408.4 2731.1,1409.3 2734.3,1409.6C2737.5,1410.0 2740.6,1409.9 2743.8,1409.1C2747.0,1408.3 2750.1,1406.5 2753.3,1404.9C2756.5,1403.3 2759.9,1400.8 2762.8,1399.2C2765.6,1397.6 2768.0,1396.4 2770.4,1395.4C2772.8,1394.4 2775.9,1393.5 2777.0,1393.1" fill="none" stroke="#ef5156" stroke-width="3.5" stroke-linejoin="round"/>
<line x1="2478.7" y1="1394.8" x2="2799.8" y2="1394.8" stroke="#000" stroke-width="2.9" stroke-dasharray="3.9 8.25"/>
<path d="M2468.1,1267.2 V1522.2 H2801.3" fill="none" stroke="#1a1a1a" stroke-width="2.2" stroke-linecap="square"/>
<text x="2452.7" y="1287.1" font-size="25.4" fill="#4d4d4d" text-anchor="end">0.50</text>
<text x="2452.7" y="1345.4" font-size="25.4" fill="#4d4d4d" text-anchor="end">0.25</text>
<text x="2452.7" y="1403.8" font-size="25.4" fill="#4d4d4d" text-anchor="end">0.00</text>
<text x="2452.7" y="1462.2" font-size="25.4" fill="#4d4d4d" text-anchor="end">−0.25</text>
<text x="2452.7" y="1520.6" font-size="25.4" fill="#4d4d4d" text-anchor="end">−0.50</text>
<text x="2482.2" y="1555.4" font-size="25.4" fill="#4d4d4d" text-anchor="middle">0</text>
<text x="2558.2" y="1555.4" font-size="25.4" fill="#4d4d4d" text-anchor="middle">5</text>
<text x="2634.1" y="1555.4" font-size="25.4" fill="#4d4d4d" text-anchor="middle">10</text>
<text x="2710.1" y="1555.4" font-size="25.4" fill="#4d4d4d" text-anchor="middle">15</text>
<text x="2786.0" y="1555.4" font-size="25.4" fill="#4d4d4d" text-anchor="middle">20</text>
<path d="M2459.7,1278.1 H2468.1M2459.7,1336.4 H2468.1M2459.7,1394.8 H2468.1M2459.7,1453.2 H2468.1M2459.7,1511.6 H2468.1M2482.2,1522.2 v8.6M2558.2,1522.2 v8.6M2634.1,1522.2 v8.6M2710.1,1522.2 v8.6M2786.0,1522.2 v8.6" stroke="#333" stroke-width="2.6" fill="none"/>
<text x="2634.7" y="1251.9" font-size="25.6" fill="#111" text-anchor="middle">Left Dorsal Striatum</text>
<path d="M2903.7,1402.1C2905.6,1401.3 2911.6,1399.5 2915.1,1397.3C2918.5,1395.1 2921.4,1392.1 2924.6,1388.8C2927.7,1385.4 2930.9,1380.6 2934.1,1377.4C2937.2,1374.1 2940.4,1371.1 2943.5,1369.2C2946.7,1367.3 2950.2,1366.5 2953.0,1366.0C2955.9,1365.4 2957.8,1365.5 2960.6,1366.0C2963.5,1366.4 2967.0,1367.7 2970.1,1368.8C2973.3,1369.9 2976.5,1371.5 2979.6,1372.6C2982.8,1373.7 2985.9,1374.9 2989.1,1375.5C2992.3,1376.0 2995.4,1376.0 2998.6,1376.0C3001.8,1376.0 3005.3,1375.6 3008.1,1375.5C3010.9,1375.4 3013.2,1375.0 3015.7,1375.5C3018.2,1375.9 3020.8,1376.9 3023.3,1378.3C3025.8,1379.7 3028.0,1381.5 3030.9,1384.0C3033.7,1386.5 3037.2,1390.3 3040.4,1393.5C3043.5,1396.7 3046.7,1400.3 3049.9,1403.0C3053.0,1405.7 3056.2,1408.1 3059.4,1409.6C3062.5,1411.2 3065.7,1411.7 3068.9,1412.1C3072.0,1412.5 3075.2,1412.3 3078.4,1412.1C3081.5,1411.9 3084.7,1411.3 3087.8,1411.0C3091.0,1410.7 3094.2,1410.0 3097.3,1410.2C3100.5,1410.4 3103.7,1411.0 3106.8,1412.1C3110.0,1413.2 3113.2,1415.3 3116.3,1416.7C3119.5,1418.1 3122.7,1419.6 3125.8,1420.5C3129.0,1421.4 3132.2,1422.1 3135.3,1422.0C3138.5,1421.9 3141.6,1421.4 3144.8,1420.1C3148.0,1418.8 3151.1,1416.4 3154.3,1414.4C3157.5,1412.4 3160.6,1409.9 3163.8,1408.3C3167.0,1406.7 3170.1,1405.7 3173.3,1404.9C3176.5,1404.1 3179.6,1403.9 3182.8,1403.4C3185.9,1402.9 3189.7,1402.4 3192.3,1402.1C3194.9,1401.7 3197.5,1401.3 3198.5,1401.1" fill="none" stroke="#708ff6" stroke-width="3.5" stroke-linejoin="round"/>
<path d="M2903.7,1384.4C2904.6,1384.3 2907.2,1383.8 2909.4,1384.0C2911.6,1384.3 2914.1,1385.0 2917.0,1385.9C2919.8,1386.9 2923.3,1388.8 2926.5,1389.7C2929.6,1390.7 2932.8,1391.4 2935.9,1391.6C2939.1,1391.8 2942.3,1391.3 2945.4,1390.7C2948.6,1390.0 2951.8,1388.7 2954.9,1387.8C2958.1,1387.0 2961.3,1385.9 2964.4,1385.5C2967.6,1385.2 2970.8,1385.1 2973.9,1385.5C2977.1,1386.0 2980.3,1387.1 2983.4,1388.2C2986.6,1389.3 2989.7,1391.1 2992.9,1392.0C2996.1,1392.9 2999.2,1393.6 3002.4,1393.5C3005.6,1393.4 3008.7,1392.8 3011.9,1391.2C3015.1,1389.6 3018.2,1386.3 3021.4,1384.0C3024.6,1381.7 3027.7,1378.9 3030.9,1377.4C3034.1,1375.8 3037.5,1374.7 3040.4,1374.5C3043.2,1374.3 3045.1,1374.6 3048.0,1376.0C3050.8,1377.5 3054.3,1380.5 3057.5,1383.1C3060.6,1385.7 3063.8,1389.2 3067.0,1391.6C3070.1,1394.0 3073.3,1396.3 3076.5,1397.7C3079.6,1399.1 3082.8,1399.8 3085.9,1400.2C3089.1,1400.5 3092.3,1399.8 3095.4,1399.6C3098.6,1399.4 3101.8,1398.6 3104.9,1398.8C3108.1,1399.0 3111.3,1399.2 3114.4,1400.7C3117.6,1402.2 3120.8,1405.2 3123.9,1407.7C3127.1,1410.3 3130.3,1413.8 3133.4,1416.3C3136.6,1418.8 3139.7,1421.6 3142.9,1422.9C3146.1,1424.3 3149.6,1424.6 3152.4,1424.5C3155.3,1424.3 3157.2,1424.0 3160.0,1422.0C3162.8,1420.0 3166.3,1416.3 3169.5,1412.5C3172.7,1408.7 3175.8,1403.2 3179.0,1399.2C3182.2,1395.2 3185.2,1391.3 3188.5,1388.8C3191.7,1386.2 3196.9,1384.8 3198.5,1384.0" fill="none" stroke="#ef5156" stroke-width="3.5" stroke-linejoin="round"/>
<line x1="2900.1" y1="1394.8" x2="3221.1" y2="1394.8" stroke="#000" stroke-width="2.9" stroke-dasharray="3.9 8.25"/>
<path d="M2889.4,1267.2 V1522.2 H3222.7" fill="none" stroke="#1a1a1a" stroke-width="2.2" stroke-linecap="square"/>
<text x="2874.0" y="1287.1" font-size="25.4" fill="#4d4d4d" text-anchor="end">0.50</text>
<text x="2874.0" y="1345.4" font-size="25.4" fill="#4d4d4d" text-anchor="end">0.25</text>
<text x="2874.0" y="1403.8" font-size="25.4" fill="#4d4d4d" text-anchor="end">0.00</text>
<text x="2874.0" y="1462.2" font-size="25.4" fill="#4d4d4d" text-anchor="end">−0.25</text>
<text x="2874.0" y="1520.6" font-size="25.4" fill="#4d4d4d" text-anchor="end">−0.50</text>
<text x="2903.6" y="1555.4" font-size="25.4" fill="#4d4d4d" text-anchor="middle">0</text>
<text x="2979.5" y="1555.4" font-size="25.4" fill="#4d4d4d" text-anchor="middle">5</text>
<text x="3055.5" y="1555.4" font-size="25.4" fill="#4d4d4d" text-anchor="middle">10</text>
<text x="3131.4" y="1555.4" font-size="25.4" fill="#4d4d4d" text-anchor="middle">15</text>
<text x="3207.4" y="1555.4" font-size="25.4" fill="#4d4d4d" text-anchor="middle">20</text>
<path d="M2881.0,1278.1 H2889.4M2881.0,1336.4 H2889.4M2881.0,1394.8 H2889.4M2881.0,1453.2 H2889.4M2881.0,1511.6 H2889.4M2903.6,1522.2 v8.6M2979.5,1522.2 v8.6M3055.5,1522.2 v8.6M3131.4,1522.2 v8.6M3207.4,1522.2 v8.6" stroke="#333" stroke-width="2.6" fill="none"/>
<text x="3056.0" y="1251.9" font-size="25.6" fill="#111" text-anchor="middle">Right Dorsal Striatum</text>
<path d="M2482.2,1762.9C2483.4,1763.4 2486.9,1765.0 2489.4,1765.7C2491.8,1766.5 2494.4,1767.1 2497.0,1767.3C2499.5,1767.4 2502.0,1767.6 2504.6,1766.7C2507.1,1765.8 2509.6,1764.5 2512.2,1761.9C2514.7,1759.4 2517.2,1755.6 2519.7,1751.5C2522.3,1747.4 2524.8,1742.0 2527.3,1737.3C2529.9,1732.5 2532.4,1727.3 2534.9,1723.0C2537.5,1718.8 2540.0,1714.7 2542.5,1711.6C2545.1,1708.6 2547.3,1706.3 2550.1,1704.6C2553.0,1703.0 2556.5,1701.8 2559.6,1701.8C2562.8,1701.8 2565.9,1702.8 2569.1,1704.6C2572.3,1706.4 2575.4,1709.2 2578.6,1712.6C2581.8,1716.0 2584.9,1720.7 2588.1,1724.9C2591.3,1729.2 2594.4,1733.8 2597.6,1738.2C2600.8,1742.6 2603.9,1747.2 2607.1,1751.5C2610.3,1755.8 2613.4,1759.9 2616.6,1763.8C2619.7,1767.8 2622.9,1771.9 2626.1,1775.2C2629.2,1778.6 2632.4,1781.8 2635.6,1784.2C2638.7,1786.5 2642.2,1788.3 2645.1,1789.5C2647.9,1790.6 2650.1,1791.0 2652.7,1791.0C2655.2,1791.0 2657.7,1790.5 2660.3,1789.5C2662.8,1788.4 2665.0,1786.9 2667.8,1784.7C2670.7,1782.5 2674.2,1779.0 2677.3,1776.2C2680.5,1773.3 2683.7,1770.1 2686.8,1767.6C2690.0,1765.2 2693.2,1762.8 2696.3,1761.4C2699.5,1760.0 2702.7,1759.4 2705.8,1759.1C2709.0,1758.8 2712.2,1759.2 2715.3,1759.5C2718.5,1759.8 2721.6,1760.6 2724.8,1761.0C2728.0,1761.4 2731.1,1761.9 2734.3,1761.9C2737.5,1761.9 2740.6,1761.5 2743.8,1761.0C2747.0,1760.5 2750.1,1759.1 2753.3,1758.7C2756.5,1758.3 2759.9,1758.5 2762.8,1758.7C2765.6,1758.9 2768.0,1759.4 2770.4,1760.1C2772.8,1760.7 2775.9,1762.1 2777.0,1762.5" fill="none" stroke="#708ff6" stroke-width="3.5" stroke-linejoin="round"/>
<path d="M2482.2,1759.5C2483.4,1759.2 2486.9,1757.8 2489.4,1757.6C2491.8,1757.4 2494.4,1757.4 2497.0,1758.2C2499.5,1758.9 2502.0,1760.6 2504.6,1761.9C2507.1,1763.3 2509.6,1765.1 2512.2,1766.3C2514.7,1767.5 2517.2,1768.6 2519.7,1769.0C2522.3,1769.4 2524.8,1769.4 2527.3,1768.6C2529.9,1767.7 2532.4,1766.4 2534.9,1763.8C2537.5,1761.3 2540.0,1757.4 2542.5,1753.4C2545.1,1749.4 2547.6,1744.0 2550.1,1740.1C2552.7,1736.3 2555.2,1732.7 2557.7,1730.2C2560.3,1727.8 2563.1,1726.4 2565.3,1725.5C2567.5,1724.6 2569.1,1724.6 2571.0,1724.9C2572.9,1725.2 2574.5,1725.3 2576.7,1727.2C2578.9,1729.1 2581.8,1732.7 2584.3,1736.3C2586.8,1739.9 2589.4,1744.7 2591.9,1748.7C2594.4,1752.6 2597.0,1757.0 2599.5,1760.1C2602.0,1763.1 2604.6,1765.6 2607.1,1767.1C2609.6,1768.6 2612.2,1769.1 2614.7,1769.0C2617.2,1768.8 2619.7,1767.8 2622.3,1766.3C2624.8,1764.8 2627.0,1762.0 2629.9,1760.1C2632.7,1758.1 2636.2,1755.7 2639.4,1754.4C2642.5,1753.0 2645.7,1752.2 2648.9,1751.9C2652.0,1751.6 2655.2,1752.0 2658.4,1752.5C2661.5,1752.9 2664.7,1754.0 2667.8,1754.4C2671.0,1754.7 2674.2,1755.2 2677.3,1754.7C2680.5,1754.3 2683.7,1753.3 2686.8,1751.5C2690.0,1749.7 2693.2,1746.1 2696.3,1743.9C2699.5,1741.7 2703.0,1739.4 2705.8,1738.2C2708.7,1737.0 2710.9,1736.8 2713.4,1736.9C2715.9,1736.9 2718.5,1737.3 2721.0,1738.6C2723.5,1739.9 2726.1,1742.4 2728.6,1744.9C2731.1,1747.3 2733.7,1750.7 2736.2,1753.4C2738.7,1756.1 2741.3,1759.0 2743.8,1761.0C2746.3,1763.0 2748.9,1764.4 2751.4,1765.2C2753.9,1766.0 2756.5,1766.0 2759.0,1765.7C2761.5,1765.5 2763.6,1764.8 2766.6,1763.8C2769.6,1762.9 2775.3,1760.7 2777.0,1760.1" fill="none" stroke="#ef5156" stroke-width="3.5" stroke-linejoin="round"/>
<line x1="2478.7" y1="1752.8" x2="2799.8" y2="1752.8" stroke="#000" stroke-width="2.9" stroke-dasharray="3.9 8.25"/>
<path d="M2468.1,1625.2 V1880.2 H2801.3" fill="none" stroke="#1a1a1a" stroke-width="2.2" stroke-linecap="square"/>
<text x="2452.7" y="1645.1" font-size="25.4" fill="#4d4d4d" text-anchor="end">0.50</text>
<text x="2452.7" y="1703.4" font-size="25.4" fill="#4d4d4d" text-anchor="end">0.25</text>
<text x="2452.7" y="1761.8" font-size="25.4" fill="#4d4d4d" text-anchor="end">0.00</text>
<text x="2452.7" y="1820.2" font-size="25.4" fill="#4d4d4d" text-anchor="end">−0.25</text>
<text x="2452.7" y="1878.6" font-size="25.4" fill="#4d4d4d" text-anchor="end">−0.50</text>
<text x="2482.2" y="1913.4" font-size="25.4" fill="#4d4d4d" text-anchor="middle">0</text>
<text x="2558.2" y="1913.4" font-size="25.4" fill="#4d4d4d" text-anchor="middle">5</text>
<text x="2634.1" y="1913.4" font-size="25.4" fill="#4d4d4d" text-anchor="middle">10</text>
<text x="2710.1" y="1913.4" font-size="25.4" fill="#4d4d4d" text-anchor="middle">15</text>
<text x="2786.0" y="1913.4" font-size="25.4" fill="#4d4d4d" text-anchor="middle">20</text>
<path d="M2459.7,1636.1 H2468.1M2459.7,1694.4 H2468.1M2459.7,1752.8 H2468.1M2459.7,1811.2 H2468.1M2459.7,1869.6 H2468.1M2482.2,1880.2 v8.6M2558.2,1880.2 v8.6M2634.1,1880.2 v8.6M2710.1,1880.2 v8.6M2786.0,1880.2 v8.6" stroke="#333" stroke-width="2.6" fill="none"/>
<text x="2634.7" y="1609.9" font-size="25.6" fill="#111" text-anchor="middle">Left Ventral Striatum</text>
<path d="M2903.7,1757.2C2904.9,1758.3 2908.7,1761.9 2911.3,1763.8C2913.8,1765.8 2916.3,1767.9 2918.9,1769.0C2921.4,1770.0 2923.9,1770.4 2926.5,1770.1C2929.0,1769.8 2931.5,1769.1 2934.1,1767.1C2936.6,1765.1 2939.1,1761.9 2941.6,1758.2C2944.2,1754.4 2946.7,1749.3 2949.2,1744.9C2951.8,1740.4 2954.3,1735.5 2956.8,1731.6C2959.4,1727.6 2961.9,1723.9 2964.4,1721.1C2967.0,1718.4 2969.5,1716.4 2972.0,1715.1C2974.6,1713.7 2977.1,1713.2 2979.6,1713.2C2982.2,1713.1 2984.7,1713.4 2987.2,1714.5C2989.7,1715.6 2992.0,1717.1 2994.8,1719.6C2997.7,1722.1 3001.1,1726.3 3004.3,1729.7C3007.5,1733.1 3010.6,1736.9 3013.8,1740.1C3017.0,1743.4 3020.1,1746.4 3023.3,1749.2C3026.5,1752.1 3029.6,1754.6 3032.8,1757.2C3035.9,1759.8 3039.1,1762.5 3042.3,1764.8C3045.4,1767.1 3048.6,1769.3 3051.8,1771.1C3054.9,1772.8 3058.1,1774.3 3061.3,1775.2C3064.4,1776.2 3067.6,1776.7 3070.8,1776.8C3073.9,1776.9 3077.1,1776.7 3080.3,1775.8C3083.4,1774.9 3086.6,1773.1 3089.7,1771.4C3092.9,1769.8 3096.1,1767.3 3099.2,1765.7C3102.4,1764.2 3105.6,1762.7 3108.7,1761.9C3111.9,1761.2 3115.1,1760.9 3118.2,1761.0C3121.4,1761.1 3124.6,1761.8 3127.7,1762.3C3130.9,1762.8 3134.4,1763.8 3137.2,1764.0C3140.1,1764.3 3142.3,1764.4 3144.8,1764.0C3147.3,1763.7 3149.9,1763.1 3152.4,1761.9C3154.9,1760.8 3157.5,1758.9 3160.0,1757.2C3162.5,1755.5 3165.1,1753.3 3167.6,1751.9C3170.1,1750.5 3172.7,1749.3 3175.2,1748.7C3177.7,1748.0 3180.3,1747.7 3182.8,1748.1C3185.3,1748.5 3187.8,1749.6 3190.4,1751.1C3193.0,1752.6 3197.2,1756.2 3198.5,1757.2" fill="none" stroke="#708ff6" stroke-width="3.5" stroke-linejoin="round"/>
<path d="M2903.7,1757.2C2904.6,1757.2 2907.5,1756.7 2909.4,1757.2C2911.3,1757.7 2912.8,1758.3 2915.1,1760.1C2917.3,1761.8 2920.1,1765.1 2922.7,1767.6C2925.2,1770.2 2927.7,1773.2 2930.3,1775.2C2932.8,1777.3 2935.6,1779.0 2937.8,1780.0C2940.1,1781.0 2941.6,1781.5 2943.5,1781.3C2945.4,1781.2 2947.0,1781.0 2949.2,1779.0C2951.5,1777.1 2954.3,1773.5 2956.8,1769.5C2959.4,1765.6 2961.9,1759.9 2964.4,1755.3C2967.0,1750.7 2969.5,1745.6 2972.0,1742.0C2974.6,1738.5 2977.1,1735.8 2979.6,1734.0C2982.2,1732.3 2985.0,1731.8 2987.2,1731.6C2989.4,1731.3 2990.7,1731.4 2992.9,1732.5C2995.1,1733.6 2998.0,1736.2 3000.5,1738.2C3003.0,1740.3 3005.6,1743.0 3008.1,1744.9C3010.6,1746.7 3013.5,1748.4 3015.7,1749.2C3017.9,1750.0 3019.5,1750.1 3021.4,1749.6C3023.3,1749.1 3024.9,1748.2 3027.1,1746.2C3029.3,1744.1 3032.2,1740.2 3034.7,1737.3C3037.2,1734.4 3039.7,1730.9 3042.3,1728.7C3044.8,1726.5 3047.5,1724.9 3049.9,1724.0C3052.2,1723.0 3054.3,1722.7 3056.5,1723.0C3058.7,1723.3 3060.8,1723.8 3063.2,1725.9C3065.5,1727.9 3068.2,1731.9 3070.8,1735.4C3073.3,1738.8 3075.8,1743.4 3078.4,1746.8C3080.9,1750.1 3083.4,1753.2 3085.9,1755.3C3088.5,1757.4 3091.3,1758.5 3093.5,1759.1C3095.8,1759.7 3097.0,1759.7 3099.2,1759.1C3101.5,1758.5 3104.3,1757.1 3106.8,1755.3C3109.4,1753.5 3111.9,1750.1 3114.4,1748.1C3117.0,1746.0 3119.7,1744.0 3122.0,1743.0C3124.4,1741.9 3126.5,1741.5 3128.7,1741.6C3130.9,1741.8 3132.9,1742.1 3135.3,1743.9C3137.7,1745.7 3140.4,1749.3 3142.9,1752.5C3145.4,1755.6 3148.0,1759.7 3150.5,1762.9C3153.0,1766.1 3155.6,1769.4 3158.1,1771.4C3160.6,1773.5 3163.2,1774.7 3165.7,1775.2C3168.2,1775.8 3170.8,1775.5 3173.3,1774.7C3175.8,1773.9 3178.4,1772.3 3180.9,1770.5C3183.4,1768.7 3185.5,1765.9 3188.5,1763.8C3191.4,1761.8 3196.9,1759.1 3198.5,1758.2" fill="none" stroke="#ef5156" stroke-width="3.5" stroke-linejoin="round"/>
<line x1="2900.1" y1="1752.8" x2="3221.1" y2="1752.8" stroke="#000" stroke-width="2.9" stroke-dasharray="3.9 8.25"/>
<path d="M2889.4,1625.2 V1880.2 H3222.7" fill="none" stroke="#1a1a1a" stroke-width="2.2" stroke-linecap="square"/>
<text x="2874.0" y="1645.1" font-size="25.4" fill="#4d4d4d" text-anchor="end">0.50</text>
<text x="2874.0" y="1703.4" font-size="25.4" fill="#4d4d4d" text-anchor="end">0.25</text>
<text x="2874.0" y="1761.8" font-size="25.4" fill="#4d4d4d" text-anchor="end">0.00</text>
<text x="2874.0" y="1820.2" font-size="25.4" fill="#4d4d4d" text-anchor="end">−0.25</text>
<text x="2874.0" y="1878.6" font-size="25.4" fill="#4d4d4d" text-anchor="end">−0.50</text>
<text x="2903.6" y="1913.4" font-size="25.4" fill="#4d4d4d" text-anchor="middle">0</text>
<text x="2979.5" y="1913.4" font-size="25.4" fill="#4d4d4d" text-anchor="middle">5</text>
<text x="3055.5" y="1913.4" font-size="25.4" fill="#4d4d4d" text-anchor="middle">10</text>
<text x="3131.4" y="1913.4" font-size="25.4" fill="#4d4d4d" text-anchor="middle">15</text>
<text x="3207.4" y="1913.4" font-size="25.4" fill="#4d4d4d" text-anchor="middle">20</text>
<path d="M2881.0,1636.1 H2889.4M2881.0,1694.4 H2889.4M2881.0,1752.8 H2889.4M2881.0,1811.2 H2889.4M2881.0,1869.6 H2889.4M2903.6,1880.2 v8.6M2979.5,1880.2 v8.6M3055.5,1880.2 v8.6M3131.4,1880.2 v8.6M3207.4,1880.2 v8.6" stroke="#333" stroke-width="2.6" fill="none"/>
<text x="3056.0" y="1609.9" font-size="25.6" fill="#111" text-anchor="middle">Right Ventral Striatum</text>
<path d="M3499.1,1031.0C3500.5,1027.8 3504.6,1018.4 3507.3,1012.0C3509.9,1005.7 3512.3,999.4 3514.9,993.0C3517.4,986.7 3519.9,979.7 3522.5,974.1C3525.0,968.4 3527.5,963.1 3530.1,958.9C3532.6,954.6 3535.1,950.8 3537.6,948.4C3540.2,946.0 3542.7,944.9 3545.2,944.6C3547.8,944.3 3550.3,945.1 3552.8,946.5C3555.4,947.9 3557.6,950.2 3560.4,953.2C3563.3,956.2 3566.8,960.4 3569.9,964.6C3573.1,968.7 3576.3,973.6 3579.4,977.8C3582.6,982.1 3585.7,986.1 3588.9,990.2C3592.1,994.3 3595.2,998.3 3598.4,1002.5C3601.6,1006.8 3604.7,1010.8 3607.9,1015.8C3611.1,1020.9 3614.2,1026.9 3617.4,1032.9C3620.6,1038.9 3623.7,1045.6 3626.9,1051.9C3630.1,1058.2 3633.2,1065.0 3636.4,1070.9C3639.5,1076.7 3642.7,1082.4 3645.9,1087.0C3649.0,1091.6 3652.2,1095.4 3655.4,1098.4C3658.5,1101.4 3661.7,1103.4 3664.9,1105.1C3668.0,1106.7 3671.2,1107.7 3674.4,1108.5C3677.5,1109.3 3680.7,1109.6 3683.8,1109.8C3687.0,1110.0 3690.2,1110.0 3693.3,1109.8C3696.5,1109.7 3699.7,1109.4 3702.8,1108.9C3706.0,1108.3 3709.2,1107.7 3712.3,1106.6C3715.5,1105.5 3718.7,1104.1 3721.8,1102.2C3725.0,1100.4 3728.2,1098.1 3731.3,1095.6C3734.5,1093.0 3737.6,1090.2 3740.8,1087.0C3744.0,1083.9 3747.1,1080.2 3750.3,1076.6C3753.5,1072.9 3756.6,1069.3 3759.8,1065.2C3763.0,1061.1 3766.4,1056.0 3769.3,1051.9C3772.1,1047.8 3774.5,1044.0 3776.9,1040.5C3779.3,1037.0 3782.4,1032.6 3783.5,1031.0" fill="none" stroke="#708ff6" stroke-width="3.5" stroke-linejoin="round"/>
<path d="M3499.1,1045.3C3500.5,1045.0 3504.6,1044.6 3507.3,1043.9C3509.9,1043.3 3512.3,1042.8 3514.9,1041.5C3517.4,1040.1 3519.9,1038.1 3522.5,1035.8C3525.0,1033.4 3527.5,1030.2 3530.1,1027.2C3532.6,1024.2 3535.1,1020.6 3537.6,1017.7C3540.2,1014.9 3542.7,1012.3 3545.2,1010.1C3547.8,1008.0 3550.3,1006.1 3552.8,1004.8C3555.4,1003.5 3558.2,1002.8 3560.4,1002.5C3562.6,1002.2 3563.9,1002.1 3566.1,1002.9C3568.3,1003.7 3571.2,1005.1 3573.7,1007.3C3576.3,1009.4 3578.8,1012.8 3581.3,1015.8C3583.8,1018.8 3586.4,1022.3 3588.9,1025.3C3591.4,1028.3 3594.0,1031.6 3596.5,1033.9C3599.0,1036.1 3601.6,1037.7 3604.1,1039.0C3606.6,1040.3 3609.2,1040.9 3611.7,1041.5C3614.2,1042.0 3616.8,1041.9 3619.3,1042.0C3621.8,1042.2 3624.4,1042.0 3626.9,1042.4C3629.4,1042.8 3631.9,1043.0 3634.5,1044.3C3637.0,1045.6 3639.5,1047.6 3642.1,1050.0C3644.6,1052.4 3647.1,1055.7 3649.7,1058.5C3652.2,1061.4 3654.7,1064.6 3657.3,1067.1C3659.8,1069.6 3662.3,1072.0 3664.9,1073.7C3667.4,1075.5 3669.9,1076.7 3672.5,1077.5C3675.0,1078.3 3677.5,1078.6 3680.1,1078.5C3682.6,1078.3 3685.1,1077.7 3687.6,1076.6C3690.2,1075.5 3692.7,1073.7 3695.2,1071.8C3697.8,1069.9 3700.3,1067.2 3702.8,1065.2C3705.4,1063.1 3707.9,1061.1 3710.4,1059.5C3713.0,1057.9 3715.5,1056.7 3718.0,1055.7C3720.6,1054.7 3723.1,1054.1 3725.6,1053.4C3728.2,1052.8 3730.1,1052.4 3733.2,1051.9C3736.4,1051.4 3740.8,1051.0 3744.6,1050.4C3748.4,1049.7 3752.2,1048.8 3756.0,1048.1C3759.8,1047.4 3763.9,1046.8 3767.4,1046.2C3770.9,1045.6 3774.2,1044.8 3776.9,1044.7C3779.6,1044.5 3782.4,1045.2 3783.5,1045.3" fill="none" stroke="#ef5156" stroke-width="3.5" stroke-linejoin="round"/>
<line x1="3495.5" y1="1041.8" x2="3806.1" y2="1041.8" stroke="#000" stroke-width="2.9" stroke-dasharray="3.9 8.25"/>
<path d="M3484.9,917.5 V1166.4 H3807.6" fill="none" stroke="#1a1a1a" stroke-width="2.2" stroke-linecap="square"/>
<text x="3469.5" y="936.9" font-size="26.4" fill="#4d4d4d" text-anchor="end">0.50</text>
<text x="3469.5" y="993.9" font-size="26.4" fill="#4d4d4d" text-anchor="end">0.25</text>
<text x="3469.5" y="1050.8" font-size="26.4" fill="#4d4d4d" text-anchor="end">0.00</text>
<text x="3469.5" y="1107.8" font-size="26.4" fill="#4d4d4d" text-anchor="end">−0.25</text>
<text x="3469.5" y="1164.8" font-size="26.4" fill="#4d4d4d" text-anchor="end">−0.50</text>
<text x="3499.1" y="1199.6" font-size="26.4" fill="#4d4d4d" text-anchor="middle">0</text>
<text x="3572.3" y="1199.6" font-size="26.4" fill="#4d4d4d" text-anchor="middle">5</text>
<text x="3645.6" y="1199.6" font-size="26.4" fill="#4d4d4d" text-anchor="middle">10</text>
<text x="3718.8" y="1199.6" font-size="26.4" fill="#4d4d4d" text-anchor="middle">15</text>
<text x="3792.1" y="1199.6" font-size="26.4" fill="#4d4d4d" text-anchor="middle">20</text>
<path d="M3476.5,927.9 H3484.9M3476.5,984.9 H3484.9M3476.5,1041.8 H3484.9M3476.5,1098.8 H3484.9M3476.5,1155.8 H3484.9M3499.1,1166.4 v8.6M3572.3,1166.4 v8.6M3645.6,1166.4 v8.6M3718.8,1166.4 v8.6M3792.1,1166.4 v8.6" stroke="#333" stroke-width="2.6" fill="none"/>
<text x="3646.3" y="902.2" font-size="26.6" fill="#111" text-anchor="middle">Left Caudate</text>
<text x="3544.9" y="949.4" font-size="40" fill="#000" text-anchor="middle">*</text>
<path d="M3912.7,1035.2C3914.1,1032.0 3918.6,1021.9 3921.3,1015.8C3924.0,1009.7 3926.3,1004.4 3928.9,998.7C3931.4,993.0 3933.9,986.9 3936.5,981.6C3939.0,976.4 3941.5,971.5 3944.1,967.4C3946.6,963.3 3949.1,959.7 3951.6,957.0C3954.2,954.3 3956.7,952.5 3959.2,951.3C3961.8,950.1 3964.3,949.7 3966.8,949.7C3969.4,949.7 3971.9,950.2 3974.4,951.3C3977.0,952.3 3979.2,953.5 3982.0,956.0C3984.9,958.5 3988.4,962.5 3991.5,966.5C3994.7,970.4 3997.8,975.2 4001.0,979.7C4004.2,984.3 4007.3,989.1 4010.5,994.0C4013.7,998.9 4016.8,1004.0 4020.0,1009.2C4023.2,1014.4 4026.3,1019.5 4029.5,1025.3C4032.7,1031.2 4035.8,1038.0 4039.0,1044.3C4042.2,1050.6 4045.3,1057.1 4048.5,1063.3C4051.6,1069.5 4054.8,1075.8 4058.0,1081.3C4061.1,1086.9 4064.3,1092.2 4067.5,1096.5C4070.6,1100.8 4073.8,1104.3 4077.0,1107.0C4080.1,1109.6 4083.6,1111.2 4086.5,1112.3C4089.3,1113.4 4091.5,1113.6 4094.1,1113.6C4096.6,1113.6 4098.8,1113.2 4101.6,1112.3C4104.5,1111.3 4108.0,1109.4 4111.1,1107.9C4114.3,1106.4 4117.5,1104.7 4120.6,1103.2C4123.8,1101.7 4127.0,1100.3 4130.1,1099.0C4133.3,1097.7 4136.5,1096.8 4139.6,1095.6C4142.8,1094.4 4145.9,1093.2 4149.1,1091.8C4152.3,1090.3 4155.4,1089.1 4158.6,1087.0C4161.8,1085.0 4164.9,1082.6 4168.1,1079.4C4171.3,1076.3 4174.7,1072.0 4177.6,1068.0C4180.4,1064.1 4183.0,1059.3 4185.2,1055.7C4187.4,1052.1 4188.9,1049.5 4190.9,1046.2C4192.8,1042.9 4195.9,1037.5 4197.0,1035.8" fill="none" stroke="#708ff6" stroke-width="3.5" stroke-linejoin="round"/>
<path d="M3912.7,1058.0C3914.1,1057.2 3918.6,1055.4 3921.3,1053.4C3924.0,1051.5 3926.3,1049.0 3928.9,1046.2C3931.4,1043.4 3933.9,1039.7 3936.5,1036.7C3939.0,1033.7 3941.5,1030.5 3944.1,1028.2C3946.6,1025.8 3949.1,1023.9 3951.6,1022.5C3954.2,1021.0 3956.7,1020.2 3959.2,1019.6C3961.8,1019.1 3964.3,1019.0 3966.8,1019.2C3969.4,1019.5 3971.6,1019.8 3974.4,1020.9C3977.3,1022.1 3980.8,1024.3 3983.9,1026.3C3987.1,1028.3 3990.3,1030.7 3993.4,1032.9C3996.6,1035.1 3999.7,1037.8 4002.9,1039.6C4006.1,1041.3 4009.2,1042.4 4012.4,1043.4C4015.6,1044.3 4018.7,1044.8 4021.9,1045.3C4025.1,1045.7 4028.2,1045.8 4031.4,1045.8C4034.6,1045.8 4037.7,1045.4 4040.9,1045.3C4044.1,1045.1 4047.2,1044.8 4050.4,1044.7C4053.5,1044.5 4056.7,1044.5 4059.9,1044.3C4063.0,1044.1 4066.2,1043.7 4069.4,1043.4C4072.5,1043.0 4075.7,1042.4 4078.9,1042.0C4082.0,1041.6 4085.2,1041.2 4088.4,1040.9C4091.5,1040.6 4094.7,1040.3 4097.8,1040.1C4101.0,1040.0 4104.2,1039.9 4107.3,1040.1C4110.5,1040.3 4113.7,1040.8 4116.8,1041.5C4120.0,1042.2 4123.2,1043.2 4126.3,1044.3C4129.5,1045.4 4132.7,1046.8 4135.8,1048.1C4139.0,1049.4 4142.2,1050.6 4145.3,1051.9C4148.5,1053.2 4151.6,1054.6 4154.8,1055.7C4158.0,1056.8 4161.1,1057.8 4164.3,1058.5C4167.5,1059.3 4170.6,1060.0 4173.8,1060.4C4177.0,1060.9 4180.4,1061.1 4183.3,1061.0C4186.1,1060.9 4188.6,1060.4 4190.9,1059.9C4193.2,1059.3 4195.9,1058.0 4197.0,1057.6" fill="none" stroke="#ef5156" stroke-width="3.5" stroke-linejoin="round"/>
<line x1="3909.1" y1="1041.8" x2="4219.7" y2="1041.8" stroke="#000" stroke-width="2.9" stroke-dasharray="3.9 8.25"/>
<path d="M3898.5,917.5 V1166.4 H4221.3" fill="none" stroke="#1a1a1a" stroke-width="2.2" stroke-linecap="square"/>
<text x="3883.1" y="936.9" font-size="26.4" fill="#4d4d4d" text-anchor="end">0.50</text>
<text x="3883.1" y="993.9" font-size="26.4" fill="#4d4d4d" text-anchor="end">0.25</text>
<text x="3883.1" y="1050.8" font-size="26.4" fill="#4d4d4d" text-anchor="end">0.00</text>
<text x="3883.1" y="1107.8" font-size="26.4" fill="#4d4d4d" text-anchor="end">−0.25</text>
<text x="3883.1" y="1164.8" font-size="26.4" fill="#4d4d4d" text-anchor="end">−0.50</text>
<text x="3912.7" y="1199.6" font-size="26.4" fill="#4d4d4d" text-anchor="middle">0</text>
<text x="3986.0" y="1199.6" font-size="26.4" fill="#4d4d4d" text-anchor="middle">5</text>
<text x="4059.2" y="1199.6" font-size="26.4" fill="#4d4d4d" text-anchor="middle">10</text>
<text x="4132.5" y="1199.6" font-size="26.4" fill="#4d4d4d" text-anchor="middle">15</text>
<text x="4205.7" y="1199.6" font-size="26.4" fill="#4d4d4d" text-anchor="middle">20</text>
<path d="M3890.1,927.9 H3898.5M3890.1,984.9 H3898.5M3890.1,1041.8 H3898.5M3890.1,1098.8 H3898.5M3890.1,1155.8 H3898.5M3912.7,1166.4 v8.6M3986.0,1166.4 v8.6M4059.2,1166.4 v8.6M4132.5,1166.4 v8.6M4205.7,1166.4 v8.6" stroke="#333" stroke-width="2.6" fill="none"/>
<text x="4059.9" y="902.2" font-size="26.6" fill="#111" text-anchor="middle">Right Caudate</text>
<text x="3966.5" y="953.2" font-size="40" fill="#000" text-anchor="middle">*</text>
<path d="M3499.1,1399.0C3500.8,1398.1 3505.9,1395.2 3509.2,1393.3C3512.4,1391.5 3515.5,1389.8 3518.7,1388.0C3521.8,1386.2 3525.0,1384.2 3528.2,1382.3C3531.3,1380.5 3534.5,1378.5 3537.6,1377.0C3540.8,1375.5 3544.0,1374.2 3547.1,1373.2C3550.3,1372.2 3553.5,1371.4 3556.6,1370.9C3559.8,1370.4 3563.0,1370.4 3566.1,1370.4C3569.3,1370.4 3572.5,1370.4 3575.6,1370.9C3578.8,1371.4 3581.9,1372.2 3585.1,1373.2C3588.3,1374.2 3591.4,1375.6 3594.6,1377.0C3597.8,1378.4 3600.9,1379.8 3604.1,1381.4C3607.3,1382.9 3610.4,1384.4 3613.6,1386.1C3616.8,1387.9 3619.9,1389.6 3623.1,1391.8C3626.3,1394.0 3629.4,1396.6 3632.6,1399.4C3635.7,1402.3 3638.9,1405.8 3642.1,1408.9C3645.2,1412.0 3648.4,1415.5 3651.6,1418.0C3654.7,1420.5 3658.2,1422.4 3661.1,1423.7C3663.9,1425.0 3666.1,1425.5 3668.7,1426.0C3671.2,1426.4 3673.7,1426.7 3676.3,1426.4C3678.8,1426.1 3681.0,1425.4 3683.8,1424.1C3686.7,1422.8 3690.2,1420.4 3693.3,1418.4C3696.5,1416.3 3699.7,1413.6 3702.8,1411.7C3706.0,1409.8 3709.2,1408.1 3712.3,1407.0C3715.5,1405.9 3718.7,1405.3 3721.8,1405.1C3725.0,1404.9 3728.2,1405.6 3731.3,1406.1C3734.5,1406.5 3737.6,1407.4 3740.8,1407.9C3744.0,1408.5 3747.1,1409.1 3750.3,1409.3C3753.5,1409.4 3756.6,1409.4 3759.8,1408.9C3763.0,1408.4 3766.4,1407.2 3769.3,1406.1C3772.1,1404.9 3774.5,1403.4 3776.9,1402.3C3779.3,1401.1 3782.4,1399.6 3783.5,1399.0" fill="none" stroke="#708ff6" stroke-width="3.5" stroke-linejoin="round"/>
<path d="M3499.1,1390.5C3500.8,1390.3 3505.9,1389.8 3509.2,1389.3C3512.4,1388.9 3515.5,1388.3 3518.7,1387.6C3521.8,1386.9 3525.0,1386.0 3528.2,1385.2C3531.3,1384.4 3534.5,1383.4 3537.6,1382.9C3540.8,1382.3 3544.3,1382.0 3547.1,1381.9C3550.0,1381.8 3551.9,1381.8 3554.7,1382.3C3557.6,1382.9 3561.1,1384.0 3564.2,1385.2C3567.4,1386.4 3570.6,1388.0 3573.7,1389.5C3576.9,1391.0 3580.1,1392.6 3583.2,1394.1C3586.4,1395.6 3589.5,1397.1 3592.7,1398.5C3595.9,1399.8 3599.0,1401.0 3602.2,1402.3C3605.4,1403.5 3608.5,1404.7 3611.7,1406.1C3614.9,1407.4 3618.0,1408.9 3621.2,1410.4C3624.4,1411.9 3627.5,1413.6 3630.7,1415.0C3633.8,1416.3 3637.0,1417.6 3640.2,1418.4C3643.3,1419.2 3646.8,1419.7 3649.7,1419.9C3652.5,1420.2 3654.7,1420.2 3657.3,1419.9C3659.8,1419.6 3662.3,1418.9 3664.9,1418.0C3667.4,1417.1 3669.9,1416.0 3672.5,1414.6C3675.0,1413.2 3677.5,1411.4 3680.1,1409.8C3682.6,1408.3 3685.1,1406.5 3687.6,1405.1C3690.2,1403.7 3692.7,1402.3 3695.2,1401.3C3697.8,1400.3 3700.0,1399.6 3702.8,1399.0C3705.7,1398.5 3709.2,1398.2 3712.3,1398.1C3715.5,1397.9 3718.7,1398.0 3721.8,1398.1C3725.0,1398.1 3728.2,1398.6 3731.3,1398.5C3734.5,1398.4 3737.6,1398.0 3740.8,1397.5C3744.0,1397.0 3747.1,1396.3 3750.3,1395.6C3753.5,1394.9 3756.6,1394.0 3759.8,1393.3C3763.0,1392.6 3766.4,1391.9 3769.3,1391.4C3772.1,1391.0 3774.5,1390.6 3776.9,1390.5C3779.3,1390.3 3782.4,1390.5 3783.5,1390.5" fill="none" stroke="#ef5156" stroke-width="3.5" stroke-linejoin="round"/>
<line x1="3495.5" y1="1398.1" x2="3806.1" y2="1398.1" stroke="#000" stroke-width="2.9" stroke-dasharray="3.9 8.25"/>
<path d="M3484.9,1273.1 V1522.4 H3807.6" fill="none" stroke="#1a1a1a" stroke-width="2.2" stroke-linecap="square"/>
<text x="3469.5" y="1293.2" font-size="26.4" fill="#4d4d4d" text-anchor="end">0.50</text>
<text x="3469.5" y="1350.1" font-size="26.4" fill="#4d4d4d" text-anchor="end">0.25</text>
<text x="3469.5" y="1407.1" font-size="26.4" fill="#4d4d4d" text-anchor="end">0.00</text>
<text x="3469.5" y="1464.0" font-size="26.4" fill="#4d4d4d" text-anchor="end">−0.25</text>
<text x="3469.5" y="1521.0" font-size="26.4" fill="#4d4d4d" text-anchor="end">−0.50</text>
<text x="3499.1" y="1555.6" font-size="26.4" fill="#4d4d4d" text-anchor="middle">0</text>
<text x="3572.3" y="1555.6" font-size="26.4" fill="#4d4d4d" text-anchor="middle">5</text>
<text x="3645.6" y="1555.6" font-size="26.4" fill="#4d4d4d" text-anchor="middle">10</text>
<text x="3718.8" y="1555.6" font-size="26.4" fill="#4d4d4d" text-anchor="middle">15</text>
<text x="3792.1" y="1555.6" font-size="26.4" fill="#4d4d4d" text-anchor="middle">20</text>
<path d="M3476.5,1284.2 H3484.9M3476.5,1341.1 H3484.9M3476.5,1398.1 H3484.9M3476.5,1455.0 H3484.9M3476.5,1512.0 H3484.9M3499.1,1522.4 v8.6M3572.3,1522.4 v8.6M3645.6,1522.4 v8.6M3718.8,1522.4 v8.6M3792.1,1522.4 v8.6" stroke="#333" stroke-width="2.6" fill="none"/>
<text x="3646.3" y="1257.8" font-size="26.6" fill="#111" text-anchor="middle">Left Dorsal Striatum</text>
<path d="M3912.7,1380.0C3914.1,1379.3 3918.3,1377.0 3921.3,1375.7C3924.3,1374.3 3927.6,1372.8 3930.8,1371.9C3933.9,1370.9 3937.1,1370.3 3940.3,1370.0C3943.4,1369.7 3946.6,1369.7 3949.7,1370.0C3952.9,1370.3 3956.1,1370.9 3959.2,1371.9C3962.4,1372.8 3965.6,1374.3 3968.7,1375.7C3971.9,1377.0 3975.1,1378.6 3978.2,1380.0C3981.4,1381.5 3984.6,1382.7 3987.7,1384.2C3990.9,1385.7 3994.1,1387.2 3997.2,1389.0C4000.4,1390.7 4003.5,1392.4 4006.7,1394.7C4009.9,1396.9 4013.0,1399.6 4016.2,1402.3C4019.4,1404.9 4022.5,1408.1 4025.7,1410.8C4028.9,1413.5 4032.0,1416.2 4035.2,1418.4C4038.4,1420.6 4041.5,1422.6 4044.7,1424.1C4047.8,1425.6 4051.0,1426.8 4054.2,1427.5C4057.3,1428.2 4060.5,1428.5 4063.7,1428.5C4066.8,1428.5 4070.0,1428.1 4073.2,1427.5C4076.3,1426.9 4079.5,1426.0 4082.7,1425.0C4085.8,1424.1 4089.0,1423.0 4092.2,1421.8C4095.3,1420.6 4098.5,1419.2 4101.6,1418.0C4104.8,1416.8 4108.0,1415.7 4111.1,1414.6C4114.3,1413.5 4117.5,1412.4 4120.6,1411.2C4123.8,1410.0 4127.0,1408.8 4130.1,1407.4C4133.3,1406.0 4136.5,1404.3 4139.6,1402.8C4142.8,1401.3 4145.9,1399.8 4149.1,1398.5C4152.3,1397.1 4155.4,1395.9 4158.6,1394.7C4161.8,1393.4 4164.9,1392.1 4168.1,1390.9C4171.3,1389.6 4174.4,1388.3 4177.6,1387.1C4180.8,1385.8 4183.9,1384.5 4187.1,1383.3C4190.3,1382.0 4195.3,1380.1 4197.0,1379.5" fill="none" stroke="#708ff6" stroke-width="3.5" stroke-linejoin="round"/>
<path d="M3912.7,1402.3C3914.1,1401.8 3918.3,1400.6 3921.3,1399.4C3924.3,1398.2 3927.6,1396.6 3930.8,1395.2C3933.9,1393.9 3937.1,1392.4 3940.3,1391.4C3943.4,1390.4 3946.6,1389.8 3949.7,1389.3C3952.9,1388.8 3956.1,1388.7 3959.2,1388.4C3962.4,1388.1 3965.6,1388.1 3968.7,1387.6C3971.9,1387.2 3975.1,1386.5 3978.2,1385.7C3981.4,1385.0 3984.6,1383.9 3987.7,1383.3C3990.9,1382.6 3994.4,1382.1 3997.2,1381.7C4000.1,1381.4 4002.3,1381.2 4004.8,1381.4C4007.3,1381.6 4009.9,1381.9 4012.4,1382.9C4014.9,1383.8 4017.5,1385.4 4020.0,1387.1C4022.5,1388.7 4025.1,1390.7 4027.6,1392.8C4030.1,1394.8 4032.7,1397.4 4035.2,1399.4C4037.7,1401.4 4040.3,1403.4 4042.8,1404.7C4045.3,1406.1 4047.8,1407.0 4050.4,1407.6C4052.9,1408.2 4055.4,1408.4 4058.0,1408.3C4060.5,1408.3 4063.0,1407.8 4065.6,1407.4C4068.1,1406.9 4070.6,1406.1 4073.2,1405.7C4075.7,1405.2 4078.2,1404.8 4080.8,1404.7C4083.3,1404.6 4085.8,1404.7 4088.4,1405.1C4090.9,1405.5 4093.4,1406.4 4095.9,1407.0C4098.5,1407.6 4101.0,1408.4 4103.5,1408.9C4106.1,1409.4 4108.6,1409.8 4111.1,1409.8C4113.7,1409.9 4116.2,1409.8 4118.7,1409.5C4121.3,1409.2 4123.8,1408.7 4126.3,1407.9C4128.9,1407.2 4131.4,1406.0 4133.9,1404.7C4136.5,1403.5 4139.0,1401.7 4141.5,1400.4C4144.1,1399.0 4146.6,1397.4 4149.1,1396.6C4151.6,1395.7 4154.2,1395.4 4156.7,1395.2C4159.2,1395.1 4161.8,1395.2 4164.3,1395.6C4166.8,1396.0 4169.4,1396.8 4171.9,1397.5C4174.4,1398.2 4177.0,1399.1 4179.5,1399.8C4182.0,1400.5 4184.2,1401.3 4187.1,1401.7C4190.0,1402.1 4195.3,1402.2 4197.0,1402.3" fill="none" stroke="#ef5156" stroke-width="3.5" stroke-linejoin="round"/>
<line x1="3909.1" y1="1398.1" x2="4219.7" y2="1398.1" stroke="#000" stroke-width="2.9" stroke-dasharray="3.9 8.25"/>
<path d="M3898.5,1273.1 V1522.4 H4221.3" fill="none" stroke="#1a1a1a" stroke-width="2.2" stroke-linecap="square"/>
<text x="3883.1" y="1293.2" font-size="26.4" fill="#4d4d4d" text-anchor="end">0.50</text>
<text x="3883.1" y="1350.1" font-size="26.4" fill="#4d4d4d" text-anchor="end">0.25</text>
<text x="3883.1" y="1407.1" font-size="26.4" fill="#4d4d4d" text-anchor="end">0.00</text>
<text x="3883.1" y="1464.0" font-size="26.4" fill="#4d4d4d" text-anchor="end">−0.25</text>
<text x="3883.1" y="1521.0" font-size="26.4" fill="#4d4d4d" text-anchor="end">−0.50</text>
<text x="3912.7" y="1555.6" font-size="26.4" fill="#4d4d4d" text-anchor="middle">0</text>
<text x="3986.0" y="1555.6" font-size="26.4" fill="#4d4d4d" text-anchor="middle">5</text>
<text x="4059.2" y="1555.6" font-size="26.4" fill="#4d4d4d" text-anchor="middle">10</text>
<text x="4132.5" y="1555.6" font-size="26.4" fill="#4d4d4d" text-anchor="middle">15</text>
<text x="4205.7" y="1555.6" font-size="26.4" fill="#4d4d4d" text-anchor="middle">20</text>
<path d="M3890.1,1284.2 H3898.5M3890.1,1341.1 H3898.5M3890.1,1398.1 H3898.5M3890.1,1455.0 H3898.5M3890.1,1512.0 H3898.5M3912.7,1522.4 v8.6M3986.0,1522.4 v8.6M4059.2,1522.4 v8.6M4132.5,1522.4 v8.6M4205.7,1522.4 v8.6" stroke="#333" stroke-width="2.6" fill="none"/>
<text x="4059.9" y="1257.8" font-size="26.6" fill="#111" text-anchor="middle">Right Dorsal Striatum</text>
<path d="M3499.1,1748.8C3500.5,1748.0 3504.6,1746.1 3507.3,1744.0C3509.9,1742.0 3512.3,1739.4 3514.9,1736.4C3517.4,1733.4 3519.9,1729.6 3522.5,1726.0C3525.0,1722.3 3527.5,1717.9 3530.1,1714.6C3532.6,1711.3 3535.1,1708.2 3537.6,1706.0C3540.2,1703.9 3543.0,1702.7 3545.2,1701.9C3547.5,1701.1 3549.0,1700.9 3550.9,1701.3C3552.8,1701.7 3554.4,1702.1 3556.6,1704.1C3558.8,1706.2 3561.7,1709.8 3564.2,1713.6C3566.8,1717.4 3569.3,1722.2 3571.8,1726.9C3574.4,1731.7 3576.9,1737.2 3579.4,1742.1C3581.9,1747.0 3584.5,1752.1 3587.0,1756.4C3589.5,1760.6 3592.1,1764.4 3594.6,1767.7C3597.1,1771.1 3599.7,1773.8 3602.2,1776.3C3604.7,1778.8 3607.3,1780.8 3609.8,1782.6C3612.3,1784.3 3614.9,1785.5 3617.4,1786.7C3619.9,1788.0 3622.5,1789.1 3625.0,1790.0C3627.5,1790.8 3630.1,1791.5 3632.6,1792.1C3635.1,1792.6 3637.6,1793.2 3640.2,1793.4C3642.7,1793.6 3645.2,1793.7 3647.8,1793.4C3650.3,1793.1 3652.8,1792.5 3655.4,1791.5C3657.9,1790.5 3660.4,1789.0 3663.0,1787.3C3665.5,1785.6 3668.0,1783.3 3670.6,1781.0C3673.1,1778.7 3675.6,1776.0 3678.2,1773.4C3680.7,1770.9 3683.2,1768.2 3685.7,1765.8C3688.3,1763.5 3690.8,1761.3 3693.3,1759.6C3695.9,1757.9 3698.4,1756.6 3700.9,1755.8C3703.5,1754.9 3705.7,1754.8 3708.5,1754.5C3711.4,1754.1 3714.9,1754.0 3718.0,1753.9C3721.2,1753.8 3724.4,1753.9 3727.5,1753.9C3730.7,1753.9 3733.8,1753.9 3737.0,1753.9C3740.2,1753.8 3743.3,1753.7 3746.5,1753.5C3749.7,1753.3 3752.8,1753.2 3756.0,1752.9C3759.2,1752.7 3762.3,1752.4 3765.5,1752.0C3768.7,1751.6 3772.0,1751.3 3775.0,1750.7C3778.0,1750.0 3782.1,1748.6 3783.5,1748.2" fill="none" stroke="#708ff6" stroke-width="3.5" stroke-linejoin="round"/>
<path d="M3499.1,1767.2C3500.5,1767.0 3504.6,1766.7 3507.3,1765.8C3509.9,1765.0 3512.3,1763.9 3514.9,1762.1C3517.4,1760.2 3519.9,1757.5 3522.5,1754.5C3525.0,1751.4 3527.5,1747.5 3530.1,1744.0C3532.6,1740.5 3535.1,1736.5 3537.6,1733.6C3540.2,1730.6 3542.7,1728.1 3545.2,1726.4C3547.8,1724.6 3550.6,1723.7 3552.8,1723.1C3555.1,1722.6 3556.6,1722.6 3558.5,1723.1C3560.4,1723.7 3562.0,1724.3 3564.2,1726.5C3566.4,1728.8 3569.3,1732.6 3571.8,1736.4C3574.4,1740.3 3576.9,1745.4 3579.4,1749.7C3581.9,1754.0 3584.5,1758.6 3587.0,1762.1C3589.5,1765.5 3592.1,1768.6 3594.6,1770.6C3597.1,1772.6 3600.0,1773.5 3602.2,1774.0C3604.4,1774.5 3605.7,1774.5 3607.9,1773.4C3610.1,1772.4 3613.0,1770.3 3615.5,1767.7C3618.0,1765.2 3620.6,1761.2 3623.1,1758.3C3625.6,1755.3 3628.2,1752.1 3630.7,1750.1C3633.2,1748.0 3635.7,1746.8 3638.3,1745.9C3640.8,1745.0 3643.3,1744.7 3645.9,1744.6C3648.4,1744.4 3650.9,1744.7 3653.5,1745.0C3656.0,1745.2 3658.5,1746.0 3661.1,1746.3C3663.6,1746.6 3666.1,1747.0 3668.7,1746.9C3671.2,1746.7 3673.7,1746.0 3676.3,1745.3C3678.8,1744.7 3681.3,1743.7 3683.8,1743.1C3686.4,1742.4 3688.9,1741.8 3691.4,1741.5C3694.0,1741.3 3696.5,1741.1 3699.0,1741.5C3701.6,1742.0 3704.1,1742.9 3706.6,1744.4C3709.2,1745.9 3711.7,1748.2 3714.2,1750.7C3716.8,1753.1 3719.3,1756.5 3721.8,1759.2C3724.4,1761.9 3726.9,1764.6 3729.4,1766.8C3731.9,1768.9 3734.5,1770.8 3737.0,1772.1C3739.5,1773.4 3742.1,1774.0 3744.6,1774.4C3747.1,1774.8 3749.7,1774.6 3752.2,1774.4C3754.7,1774.1 3757.3,1773.5 3759.8,1772.9C3762.3,1772.2 3764.9,1771.3 3767.4,1770.6C3769.9,1769.9 3772.3,1769.3 3775.0,1768.7C3777.7,1768.1 3782.1,1767.4 3783.5,1767.2" fill="none" stroke="#ef5156" stroke-width="3.5" stroke-linejoin="round"/>
<line x1="3495.5" y1="1753.9" x2="3806.1" y2="1753.9" stroke="#000" stroke-width="2.9" stroke-dasharray="3.9 8.25"/>
<path d="M3484.9,1629.7 V1877.9 H3807.6" fill="none" stroke="#1a1a1a" stroke-width="2.2" stroke-linecap="square"/>
<text x="3469.5" y="1649.0" font-size="26.4" fill="#4d4d4d" text-anchor="end">0.50</text>
<text x="3469.5" y="1705.9" font-size="26.4" fill="#4d4d4d" text-anchor="end">0.25</text>
<text x="3469.5" y="1762.9" font-size="26.4" fill="#4d4d4d" text-anchor="end">0.00</text>
<text x="3469.5" y="1819.8" font-size="26.4" fill="#4d4d4d" text-anchor="end">−0.25</text>
<text x="3469.5" y="1876.8" font-size="26.4" fill="#4d4d4d" text-anchor="end">−0.50</text>
<text x="3499.1" y="1911.1" font-size="26.4" fill="#4d4d4d" text-anchor="middle">0</text>
<text x="3572.3" y="1911.1" font-size="26.4" fill="#4d4d4d" text-anchor="middle">5</text>
<text x="3645.6" y="1911.1" font-size="26.4" fill="#4d4d4d" text-anchor="middle">10</text>
<text x="3718.8" y="1911.1" font-size="26.4" fill="#4d4d4d" text-anchor="middle">15</text>
<text x="3792.1" y="1911.1" font-size="26.4" fill="#4d4d4d" text-anchor="middle">20</text>
<path d="M3476.5,1640.0 H3484.9M3476.5,1696.9 H3484.9M3476.5,1753.9 H3484.9M3476.5,1810.8 H3484.9M3476.5,1867.8 H3484.9M3499.1,1877.9 v8.6M3572.3,1877.9 v8.6M3645.6,1877.9 v8.6M3718.8,1877.9 v8.6M3792.1,1877.9 v8.6" stroke="#333" stroke-width="2.6" fill="none"/>
<text x="3646.3" y="1614.4" font-size="26.6" fill="#111" text-anchor="middle">Left Ventral Striatum</text>
<path d="M3912.7,1757.3C3913.8,1755.9 3917.0,1752.1 3919.4,1748.8C3921.7,1745.4 3924.4,1741.0 3927.0,1737.4C3929.5,1733.7 3932.0,1729.9 3934.6,1726.9C3937.1,1723.9 3939.6,1721.3 3942.2,1719.3C3944.7,1717.4 3947.2,1716.1 3949.7,1715.2C3952.3,1714.2 3954.8,1713.6 3957.3,1713.6C3959.9,1713.7 3962.4,1714.3 3964.9,1715.5C3967.5,1716.8 3970.0,1718.9 3972.5,1721.2C3975.1,1723.6 3977.6,1726.6 3980.1,1729.8C3982.7,1732.9 3985.2,1736.9 3987.7,1740.2C3990.3,1743.5 3992.8,1746.9 3995.3,1749.7C3997.8,1752.6 4000.4,1755.0 4002.9,1757.3C4005.4,1759.6 4008.0,1761.6 4010.5,1763.4C4013.0,1765.1 4015.6,1766.6 4018.1,1767.7C4020.6,1768.9 4023.2,1769.7 4025.7,1770.2C4028.2,1770.8 4030.8,1770.8 4033.3,1771.0C4035.8,1771.1 4038.4,1771.2 4040.9,1771.0C4043.4,1770.8 4045.9,1770.3 4048.5,1769.6C4051.0,1769.0 4053.5,1768.0 4056.1,1767.2C4058.6,1766.4 4061.1,1765.5 4063.7,1764.9C4066.2,1764.3 4068.7,1763.7 4071.3,1763.4C4073.8,1763.1 4076.3,1762.9 4078.9,1763.0C4081.4,1763.1 4083.9,1763.6 4086.5,1763.9C4089.0,1764.3 4091.5,1764.9 4094.1,1765.3C4096.6,1765.7 4099.1,1766.1 4101.6,1766.4C4104.2,1766.7 4106.7,1767.1 4109.2,1767.2C4111.8,1767.2 4114.3,1767.2 4116.8,1766.8C4119.4,1766.4 4121.9,1765.7 4124.4,1764.9C4127.0,1764.1 4129.5,1763.1 4132.0,1762.1C4134.6,1761.0 4137.1,1759.7 4139.6,1758.8C4142.2,1758.0 4144.7,1757.2 4147.2,1756.9C4149.7,1756.6 4152.3,1756.7 4154.8,1756.9C4157.3,1757.1 4159.9,1757.6 4162.4,1758.3C4164.9,1758.9 4167.5,1760.0 4170.0,1760.7C4172.5,1761.4 4175.1,1762.3 4177.6,1762.6C4180.1,1762.9 4182.7,1763.0 4185.2,1762.6C4187.7,1762.2 4190.8,1761.1 4192.8,1760.2C4194.7,1759.2 4196.3,1757.5 4197.0,1756.9" fill="none" stroke="#708ff6" stroke-width="3.5" stroke-linejoin="round"/>
<path d="M3912.7,1763.4C3913.7,1764.2 3916.5,1767.1 3918.4,1768.3C3920.3,1769.5 3922.2,1770.5 3924.1,1770.6C3926.0,1770.7 3927.8,1770.5 3929.8,1769.1C3931.9,1767.7 3934.1,1765.3 3936.5,1762.1C3938.8,1758.8 3941.5,1753.7 3944.1,1749.7C3946.6,1745.8 3949.1,1741.5 3951.6,1738.3C3954.2,1735.1 3956.7,1732.2 3959.2,1730.3C3961.8,1728.5 3964.6,1727.6 3966.8,1727.3C3969.1,1727.0 3970.6,1727.4 3972.5,1728.4C3974.4,1729.5 3976.0,1731.0 3978.2,1733.6C3980.4,1736.2 3983.3,1740.7 3985.8,1744.0C3988.4,1747.3 3990.9,1751.0 3993.4,1753.5C3995.9,1756.0 3998.8,1758.1 4001.0,1759.2C4003.2,1760.3 4004.8,1760.3 4006.7,1760.2C4008.6,1760.0 4010.2,1759.5 4012.4,1758.3C4014.6,1757.0 4017.5,1754.3 4020.0,1752.6C4022.5,1750.8 4025.2,1748.9 4027.6,1747.8C4030.0,1746.8 4032.0,1746.2 4034.2,1746.3C4036.5,1746.4 4038.5,1746.7 4040.9,1748.2C4043.3,1749.7 4045.9,1752.8 4048.5,1755.4C4051.0,1758.0 4053.5,1761.6 4056.1,1763.9C4058.6,1766.3 4061.3,1768.5 4063.7,1769.6C4066.0,1770.8 4068.1,1770.9 4070.3,1770.6C4072.5,1770.3 4074.6,1769.6 4077.0,1767.7C4079.3,1765.8 4082.0,1762.4 4084.6,1759.2C4087.1,1756.0 4089.6,1751.7 4092.2,1748.8C4094.7,1745.8 4097.2,1743.3 4099.7,1741.7C4102.3,1740.2 4105.0,1739.5 4107.3,1739.3C4109.7,1739.0 4111.8,1739.1 4114.0,1740.2C4116.2,1741.3 4118.3,1743.5 4120.6,1745.9C4123.0,1748.3 4125.7,1752.1 4128.2,1754.5C4130.8,1756.8 4133.3,1758.9 4135.8,1760.2C4138.4,1761.4 4140.9,1762.1 4143.4,1762.1C4145.9,1762.1 4148.5,1761.4 4151.0,1760.2C4153.5,1758.9 4156.1,1756.4 4158.6,1754.5C4161.1,1752.6 4163.7,1750.0 4166.2,1748.8C4168.7,1747.5 4171.3,1746.9 4173.8,1746.9C4176.3,1746.9 4178.9,1747.3 4181.4,1748.8C4183.9,1750.2 4186.4,1753.0 4189.0,1755.4C4191.6,1757.8 4195.6,1762.1 4197.0,1763.4" fill="none" stroke="#ef5156" stroke-width="3.5" stroke-linejoin="round"/>
<line x1="3909.1" y1="1753.9" x2="4219.7" y2="1753.9" stroke="#000" stroke-width="2.9" stroke-dasharray="3.9 8.25"/>
<path d="M3898.5,1629.7 V1877.9 H4221.3" fill="none" stroke="#1a1a1a" stroke-width="2.2" stroke-linecap="square"/>
<text x="3883.1" y="1649.0" font-size="26.4" fill="#4d4d4d" text-anchor="end">0.50</text>
<text x="3883.1" y="1705.9" font-size="26.4" fill="#4d4d4d" text-anchor="end">0.25</text>
<text x="3883.1" y="1762.9" font-size="26.4" fill="#4d4d4d" text-anchor="end">0.00</text>
<text x="3883.1" y="1819.8" font-size="26.4" fill="#4d4d4d" text-anchor="end">−0.25</text>
<text x="3883.1" y="1876.8" font-size="26.4" fill="#4d4d4d" text-anchor="end">−0.50</text>
<text x="3912.7" y="1911.1" font-size="26.4" fill="#4d4d4d" text-anchor="middle">0</text>
<text x="3986.0" y="1911.1" font-size="26.4" fill="#4d4d4d" text-anchor="middle">5</text>
<text x="4059.2" y="1911.1" font-size="26.4" fill="#4d4d4d" text-anchor="middle">10</text>
<text x="4132.5" y="1911.1" font-size="26.4" fill="#4d4d4d" text-anchor="middle">15</text>
<text x="4205.7" y="1911.1" font-size="26.4" fill="#4d4d4d" text-anchor="middle">20</text>
<path d="M3890.1,1640.0 H3898.5M3890.1,1696.9 H3898.5M3890.1,1753.9 H3898.5M3890.1,1810.8 H3898.5M3890.1,1867.8 H3898.5M3912.7,1877.9 v8.6M3986.0,1877.9 v8.6M4059.2,1877.9 v8.6M4132.5,1877.9 v8.6M4205.7,1877.9 v8.6" stroke="#333" stroke-width="2.6" fill="none"/>
<text x="4059.9" y="1614.4" font-size="26.6" fill="#111" text-anchor="middle">Right Ventral Striatum</text>
<text x="2844.6" y="837" font-size="36" text-anchor="middle" textLength="594" lengthAdjust="spacingAndGlyphs">Initial vs Reversal (Decision Making)</text>
<text x="3852" y="841" font-size="36.5" text-anchor="middle" textLength="503" lengthAdjust="spacingAndGlyphs">Initial vs Reversal (Feedback)</text>
<text x="2844.4" y="1961.5" font-size="31" text-anchor="middle">Time (s)</text>
<text x="3852" y="1961.5" font-size="31" text-anchor="middle">Time (s)</text>
<text transform="translate(2375,1394.3) rotate(-90)" font-size="31" text-anchor="middle">HRF Amplitude</text>
<text transform="translate(3388,1396) rotate(-90)" font-size="31" text-anchor="middle">HRF Amplitude</text>
<text x="4296" y="1349" font-size="31.4">Learning Phase</text>
<line x1="4300.8" y1="1393.8" x2="4341.4" y2="1393.8" stroke="#708ff6" stroke-width="3.5"/><line x1="4300.8" y1="1442.2" x2="4341.4" y2="1442.2" stroke="#ef5156" stroke-width="3.5"/>
<text x="4362" y="1403" font-size="25" fill="#111">Initial</text><text x="4362" y="1452.6" font-size="25" fill="#111">Reversal</text>
</svg>
<svg width="2304" height="600" viewBox="2304 2200 2304 600" style="left:2304px;top:2200px">
<rect x="2464" y="2287" width="210.7" height="401.1" fill="#fff" stroke="#111" stroke-width="1.7"/>
<rect x="2700" y="2287" width="210.7" height="401.1" fill="#fff" stroke="#111" stroke-width="1.7"/>
<text x="2687" y="2238.4" font-size="22.2" text-anchor="middle" fill="#111">Caudate (Height)</text>
<text x="2568.7" y="2275.9" font-size="20.1" text-anchor="middle" fill="#111">Decision Making</text>
<text x="2804.9" y="2275.9" font-size="20.1" text-anchor="middle" fill="#111">Feedback</text>
<line x1="2459" y1="2299" x2="2464" y2="2299" stroke="#333" stroke-width="1.2"/>
<text x="2454.2" y="2304.9" font-size="16.4" text-anchor="end" fill="#4d4d4d">1.00</text>
<line x1="2459" y1="2391.8" x2="2464" y2="2391.8" stroke="#333" stroke-width="1.2"/>
<text x="2454.2" y="2397.7" font-size="16.4" text-anchor="end" fill="#4d4d4d">0.75</text>
<line x1="2459" y1="2484.9" x2="2464" y2="2484.9" stroke="#333" stroke-width="1.2"/>
<text x="2454.2" y="2490.8" font-size="16.4" text-anchor="end" fill="#4d4d4d">0.50</text>
<line x1="2459" y1="2577.7" x2="2464" y2="2577.7" stroke="#333" stroke-width="1.2"/>
<text x="2454.2" y="2583.6" font-size="16.4" text-anchor="end" fill="#4d4d4d">0.25</text>
<line x1="2459" y1="2670.5" x2="2464" y2="2670.5" stroke="#333" stroke-width="1.2"/>
<text x="2454.2" y="2676.4" font-size="16.4" text-anchor="end" fill="#4d4d4d">0.00</text>
<text transform="translate(2409.6,2487.8) rotate(-90)" font-size="17.9" text-anchor="middle" fill="#111">Height (a.u.)</text>
<line x1="2520.7" y1="2688.1" x2="2520.7" y2="2693.1" stroke="#333" stroke-width="1.2"/>
<text x="2520.7" y="2709.9" font-size="18.4" text-anchor="middle" fill="#4d4d4d">Left</text>
<line x1="2617" y1="2688.1" x2="2617" y2="2693.1" stroke="#333" stroke-width="1.2"/>
<text x="2617" y="2709.9" font-size="18.4" text-anchor="middle" fill="#4d4d4d">Right</text>
<line x1="2756.7" y1="2688.1" x2="2756.7" y2="2693.1" stroke="#333" stroke-width="1.2"/>
<text x="2756.7" y="2709.9" font-size="18.4" text-anchor="middle" fill="#4d4d4d">Left</text>
<line x1="2852.7" y1="2688.1" x2="2852.7" y2="2693.1" stroke="#333" stroke-width="1.2"/>
<text x="2852.7" y="2709.9" font-size="18.4" text-anchor="middle" fill="#4d4d4d">Right</text>
<text x="2686.9" y="2738.2" font-size="18.4" text-anchor="middle" fill="#111">ROI Subdivision</text>
<rect x="2477.7" y="2433.5" width="43.6" height="237.0" fill="#748ffc"/>
<rect x="2520.7" y="2477.1" width="43.6" height="193.4" fill="#fb5353"/>
<rect x="2574" y="2413.6" width="43.6" height="256.9" fill="#748ffc"/>
<rect x="2617" y="2502.2" width="43.3" height="168.3" fill="#fb5353"/>
<rect x="2713.7" y="2491.1" width="43.6" height="179.4" fill="#748ffc"/>
<rect x="2756.7" y="2506.4" width="43.6" height="164.1" fill="#fb5353"/>
<rect x="2810.1" y="2469.3" width="43.2" height="201.2" fill="#748ffc"/>
<rect x="2852.7" y="2474.8" width="43.7" height="195.7" fill="#fb5353"/>
<path d="M2499.2,2433.5 V2315.6 M2487.5,2315.6 h23.4 M2542.5,2477.1 V2335.1 M2530.8,2335.1 h23.4 M2595.2,2413.6 V2303.9 M2583.5,2303.9 h23.4 M2638.8,2502.2 V2402.2 M2627.1,2402.2 h23.4 M2735.2,2491.1 V2369.3 M2723.5,2369.3 h23.4 M2778.5,2506.4 V2409.4 M2766.8,2409.4 h23.4 M2831.6,2469.3 V2367.7 M2819.9,2367.7 h23.4 M2874.9,2474.8 V2388.9 M2863.2,2388.9 h23.4 " stroke="#111" stroke-width="1.6" fill="none"/>
<rect x="3115.3" y="2289.2" width="214.2" height="400.5" fill="#fff" stroke="#111" stroke-width="1.7"/>
<rect x="3354.6" y="2289.2" width="214.9" height="400.5" fill="#fff" stroke="#111" stroke-width="1.7"/>
<text x="3342.1" y="2241" font-size="22.2" text-anchor="middle" fill="#111">Caudate (Time-to-Peak)</text>
<text x="3222.1" y="2277.8" font-size="20.1" text-anchor="middle" fill="#111">Decision Making</text>
<text x="3461.6" y="2277.8" font-size="20.1" text-anchor="middle" fill="#111">Feedback</text>
<line x1="3110.3" y1="2294.1" x2="3115.3" y2="2294.1" stroke="#333" stroke-width="1.2"/>
<text x="3105.5" y="2300.0" font-size="16.4" text-anchor="end" fill="#4d4d4d">15</text>
<line x1="3110.3" y1="2420.4" x2="3115.3" y2="2420.4" stroke="#333" stroke-width="1.2"/>
<text x="3105.5" y="2426.3" font-size="16.4" text-anchor="end" fill="#4d4d4d">10</text>
<line x1="3110.3" y1="2546.4" x2="3115.3" y2="2546.4" stroke="#333" stroke-width="1.2"/>
<text x="3105.5" y="2552.3" font-size="16.4" text-anchor="end" fill="#4d4d4d">5</text>
<line x1="3110.3" y1="2672.4" x2="3115.3" y2="2672.4" stroke="#333" stroke-width="1.2"/>
<text x="3105.5" y="2678.3" font-size="16.4" text-anchor="end" fill="#4d4d4d">0</text>
<text transform="translate(3075.9,2489.3) rotate(-90)" font-size="17.9" text-anchor="middle" fill="#111">Time-to-Peak (s)</text>
<line x1="3172.9" y1="2689.7" x2="3172.9" y2="2694.7" stroke="#333" stroke-width="1.2"/>
<text x="3172.9" y="2711.5" font-size="18.4" text-anchor="middle" fill="#4d4d4d">Left</text>
<line x1="3271.3" y1="2689.7" x2="3271.3" y2="2694.7" stroke="#333" stroke-width="1.2"/>
<text x="3271.3" y="2711.5" font-size="18.4" text-anchor="middle" fill="#4d4d4d">Right</text>
<line x1="3412.6" y1="2689.7" x2="3412.6" y2="2694.7" stroke="#333" stroke-width="1.2"/>
<text x="3412.6" y="2711.5" font-size="18.4" text-anchor="middle" fill="#4d4d4d">Left</text>
<line x1="3510.9" y1="2689.7" x2="3510.9" y2="2694.7" stroke="#333" stroke-width="1.2"/>
<text x="3510.9" y="2711.5" font-size="18.4" text-anchor="middle" fill="#4d4d4d">Right</text>
<text x="3342.2" y="2739.8" font-size="18.4" text-anchor="middle" fill="#111">ROI Subdivision</text>
<rect x="3129" y="2532.1" width="44.9" height="140.3" fill="#748ffc"/>
<rect x="3173.3" y="2457.6" width="43.9" height="214.8" fill="#fb5353"/>
<rect x="3227.6" y="2507.7" width="44.3" height="164.7" fill="#748ffc"/>
<rect x="3271.3" y="2434.8" width="43.9" height="237.6" fill="#fb5353"/>
<rect x="3368.6" y="2557.2" width="44.9" height="115.2" fill="#748ffc"/>
<rect x="3412.9" y="2455.3" width="43.9" height="217.1" fill="#fb5353"/>
<rect x="3466.9" y="2513.6" width="44.6" height="158.8" fill="#748ffc"/>
<rect x="3510.9" y="2451.4" width="43.9" height="221.0" fill="#fb5353"/>
<path d="M3151.1,2532.1 V2486.9 M3139.4,2486.9 h23.4 M3195.4,2457.6 V2357 M3183.7,2357 h23.4 M3249.4,2507.7 V2419.5 M3237.7,2419.5 h23.4 M3293.1,2434.8 V2306.2 M3281.4,2306.2 h23.4 M3390.8,2557.2 V2497.6 M3379.1,2497.6 h23.4 M3435,2455.3 V2322.1 M3423.3,2322.1 h23.4 M3489.1,2513.6 V2428.3 M3477.4,2428.3 h23.4 M3533.4,2451.4 V2346.2 M3521.7,2346.2 h23.4 " stroke="#111" stroke-width="1.6" fill="none"/>
<path d="M3140.7,2310 V2299 H3158.5 M3178.5,2299 H3197.4 V2310" stroke="#111" stroke-width="1.6" fill="none"/>
<text x="3169" y="2316" font-size="36" text-anchor="middle" fill="#000">*</text>
<path d="M3377.7,2310 V2299 H3395.9 M3415.9,2299 H3435.4 V2310" stroke="#111" stroke-width="1.6" fill="none"/>
<text x="3406.4" y="2316" font-size="36" text-anchor="middle" fill="#000">*</text>
<rect x="3768.8" y="2289.2" width="214.2" height="400.5" fill="#fff" stroke="#111" stroke-width="1.7"/>
<rect x="4008.1" y="2289.2" width="214.6" height="400.5" fill="#fff" stroke="#111" stroke-width="1.7"/>
<text x="3995.4" y="2241" font-size="22.2" text-anchor="middle" fill="#111">Caudate (FWHM)</text>
<text x="3875.9" y="2277.8" font-size="20.1" text-anchor="middle" fill="#111">Decision Making</text>
<text x="4114.9" y="2277.8" font-size="20.1" text-anchor="middle" fill="#111">Feedback</text>
<line x1="3763.8" y1="2300" x2="3768.8" y2="2300" stroke="#333" stroke-width="1.2"/>
<text x="3759.3" y="2305.9" font-size="16.4" text-anchor="end" fill="#4d4d4d">8</text>
<line x1="3763.8" y1="2393.1" x2="3768.8" y2="2393.1" stroke="#333" stroke-width="1.2"/>
<text x="3759.3" y="2399.0" font-size="16.4" text-anchor="end" fill="#4d4d4d">6</text>
<line x1="3763.8" y1="2486.2" x2="3768.8" y2="2486.2" stroke="#333" stroke-width="1.2"/>
<text x="3759.3" y="2492.1" font-size="16.4" text-anchor="end" fill="#4d4d4d">4</text>
<line x1="3763.8" y1="2579.3" x2="3768.8" y2="2579.3" stroke="#333" stroke-width="1.2"/>
<text x="3759.3" y="2585.2" font-size="16.4" text-anchor="end" fill="#4d4d4d">2</text>
<line x1="3763.8" y1="2672.4" x2="3768.8" y2="2672.4" stroke="#333" stroke-width="1.2"/>
<text x="3759.3" y="2678.3" font-size="16.4" text-anchor="end" fill="#4d4d4d">0</text>
<text transform="translate(3738.5,2489.5) rotate(-90)" font-size="17.9" text-anchor="middle" fill="#111">FWHM (s)</text>
<line x1="3826.7" y1="2689.7" x2="3826.7" y2="2694.7" stroke="#333" stroke-width="1.2"/>
<text x="3826.7" y="2711.5" font-size="18.4" text-anchor="middle" fill="#4d4d4d">Left</text>
<line x1="3924.7" y1="2689.7" x2="3924.7" y2="2694.7" stroke="#333" stroke-width="1.2"/>
<text x="3924.7" y="2711.5" font-size="18.4" text-anchor="middle" fill="#4d4d4d">Right</text>
<line x1="4066" y1="2689.7" x2="4066" y2="2694.7" stroke="#333" stroke-width="1.2"/>
<text x="4066" y="2711.5" font-size="18.4" text-anchor="middle" fill="#4d4d4d">Left</text>
<line x1="4164" y1="2689.7" x2="4164" y2="2694.7" stroke="#333" stroke-width="1.2"/>
<text x="4164" y="2711.5" font-size="18.4" text-anchor="middle" fill="#4d4d4d">Right</text>
<text x="3995.4" y="2739.8" font-size="18.4" text-anchor="middle" fill="#111">ROI Subdivision</text>
<rect x="3782.8" y="2407.4" width="44.5" height="265.0" fill="#748ffc"/>
<rect x="3826.7" y="2459.8" width="44.6" height="212.6" fill="#fb5353"/>
<rect x="3881.1" y="2415.6" width="44.6" height="256.8" fill="#748ffc"/>
<rect x="3925.1" y="2491.4" width="43.9" height="181.0" fill="#fb5353"/>
<rect x="4022.1" y="2463.1" width="44.5" height="209.3" fill="#748ffc"/>
<rect x="4066" y="2462.1" width="44.3" height="210.3" fill="#fb5353"/>
<rect x="4120.1" y="2432.8" width="44.5" height="239.6" fill="#748ffc"/>
<rect x="4164" y="2453.3" width="44.0" height="219.1" fill="#fb5353"/>
<path d="M3804.6,2407.4 V2316.6 M3792.9,2316.6 h23.4 M3849.2,2459.8 V2392.4 M3837.5,2392.4 h23.4 M3902.9,2415.6 V2306.2 M3891.2,2306.2 h23.4 M3947.2,2491.4 V2427 M3935.5,2427 h23.4 M4044.2,2463.1 V2387.6 M4032.5,2387.6 h23.4 M4088.2,2462.1 V2366.1 M4076.5,2366.1 h23.4 M4141.9,2432.8 V2341.3 M4130.2,2341.3 h23.4 M4186.2,2453.3 V2373.6 M4174.5,2373.6 h23.4 " stroke="#111" stroke-width="1.6" fill="none"/>
<text x="4287" y="2397.5" font-size="34.4" fill="#111">Learning Phase</text>
<rect x="4290.4" y="2420.4" width="49.4" height="50" fill="#748ffc"/><rect x="4290.4" y="2475.6" width="49.4" height="49.4" fill="#fb5353"/>
<text x="4359.5" y="2455.8" font-size="27.3" fill="#111">Initial</text><text x="4359.5" y="2511" font-size="27.3" fill="#111">Reversal</text>
</svg>
<div class="t b" style="font-size:110px;left:671.50px;top:87.00px;transform:scaleX(1.0299);">Differential haemodynamic responses in the human striatum</div>
<div class="t b" style="font-size:110px;left:1381.50px;top:215.00px;transform:scaleX(1.0255);">during initial and reversal learning</div>
<div class="t" style="font-size:73.5px;left:1104.00px;top:385.00px;transform:scaleX(1.0507);">Gabriella Rossetti<sup class="s">1</sup>, Aamir Sohail<sup class="s">1</sup>, Tiffany Bell<sup class="s">2</sup>, Anastasia Christakou<sup class="s">1</sup></div>
<div class="t" style="font-size:54.4px;left:121.50px;top:486.00px;transform:scaleX(1.0141);"><sup class="s">1.</sup> Centre for Integrative Neuroscience and Neurodynamics (CINN), University of Reading; <sup class="s">2.</sup> Department of Radiology, Cumming School of Medicine, University of Calgary, Canada</div>
<div class="t b w" style="font-size:48px;left:449.00px;top:653.00px;transform:scaleX(0.9681);">Introduction</div>
<div class="t" style="font-size:37.8px;left:95.00px;top:750.00px;transform:scaleX(1.0344);">Evidence from animal models strongly suggests that the</div>
<div class="t" style="font-size:37.8px;left:95.00px;top:795.00px;transform:scaleX(1.0477);">various striatal neurochemical systems exert differential</div>
<div class="t" style="font-size:37.8px;left:95.00px;top:840.00px;transform:scaleX(1.0492);">control over action selection during different aspects of</div>
<div class="t" style="font-size:37.8px;left:95.00px;top:885.00px;transform:scaleX(1.0599);">reinforcement learning.</div>
<div class="t" style="font-size:37.8px;left:95.00px;top:937.00px;transform:scaleX(1.0500);">For example, afferent midbrain dopaminergic neurons</div>
<div class="t" style="font-size:37.8px;left:95.00px;top:982.00px;transform:scaleX(1.0230);">(DAs) encode outcome characteristics into a teaching</div>
<div class="t" style="font-size:37.8px;left:95.00px;top:1027.00px;transform:scaleX(1.0373);">signal that shapes the corticostriatal synapse during</div>
<div class="t" style="font-size:37.8px;left:95.00px;top:1072.00px;transform:scaleX(1.0482);">learning. However, striatal cholinergic interneurons</div>
<div class="t" style="font-size:37.8px;left:95.00px;top:1117.00px;transform:scaleX(1.0255);">(CINs) respond when learning should occur and may be</div>
<div class="t" style="font-size:37.8px;left:95.00px;top:1161.00px;transform:scaleX(1.0430);">essential in regulating the rate of learning in contexts</div>
<div class="t" style="font-size:37.8px;left:95.00px;top:1206.00px;transform:scaleX(1.0555);">that require flexible updating of previously learned</div>
<div class="t" style="font-size:37.8px;left:95.00px;top:1251.00px;transform:scaleX(0.9998);">associations (Bell et al., 2019).</div>
<div class="t" style="font-size:37.8px;left:95.00px;top:1304.00px;transform:scaleX(1.0241);">Recent evidence suggests that striatal haemodynamics</div>
<div class="t" style="font-size:37.8px;left:95.00px;top:1348.00px;transform:scaleX(1.0508);">are affected by fluctuations in dopaminergic activity, but</div>
<div class="t" style="font-size:37.8px;left:95.00px;top:1393.00px;transform:scaleX(1.0634);">it is unknown whether the different relative</div>
<div class="t" style="font-size:37.8px;left:95.00px;top:1438.00px;transform:scaleX(1.0513);">contributions of dopaminergic activity and cholinergic</div>
<div class="t" style="font-size:37.8px;left:95.00px;top:1483.00px;transform:scaleX(1.0554);">activity in the striatum are reflected in the nature of</div>
<div class="t" style="font-size:37.8px;left:95.00px;top:1528.00px;transform:scaleX(1.0323);">haemodynamic responses (haemodynamic response</div>
<div class="t" style="font-size:37.8px;left:95.00px;top:1573.00px;transform:scaleX(0.9913);">functions; HRFs).</div>
<div class="t" style="font-size:37.8px;left:95.00px;top:1624.00px;transform:scaleX(1.0458);">In this study, we used high-resolution multiband fMRI</div>
<div class="t" style="font-size:37.8px;left:95.00px;top:1669.00px;transform:scaleX(1.0323);">and completed deconvolution analysis to model the HRF</div>
<div class="t" style="font-size:37.8px;left:95.00px;top:1714.00px;transform:scaleX(1.0425);">during feedback and decision making in initial learning</div>
<div class="t" style="font-size:37.8px;left:95.00px;top:1759.00px;transform:scaleX(1.0246);">and reversal learning phases.</div>
<div class="t b w" style="font-size:48px;left:490.75px;top:1860.00px;transform:scaleX(0.9781);">Methods</div>
<div class="t" style="font-size:37.8px;left:95.00px;top:1958.00px;transform:scaleX(1.0275);">Data acquisition has been described previously (Bell et</div>
<div class="t" style="font-size:37.8px;left:95.00px;top:2003.00px;transform:scaleX(0.9802);">al., 2019).</div>
<div class="t b" style="font-size:44px;left:95.00px;top:2054.00px;transform:scaleX(1.0135);">Behavioural Task</div>
<div class="t" style="font-size:37.8px;left:95.00px;top:2114.00px;transform:scaleX(1.0577);">Participants performed a probabilistic multi-alternative</div>
<div class="t" style="font-size:37.8px;left:95.00px;top:2159.00px;transform:scaleX(1.0496);">reinforcement learning task with a reversal component</div>
<div class="t" style="font-size:37.8px;left:95.00px;top:2204.00px;transform:scaleX(1.0148);">(Figure 1). Four decks of cards each had a different,</div>
<div class="t" style="font-size:37.8px;left:95.00px;top:2249.00px;transform:scaleX(1.0439);">randomly assigned probability of generating a +50-point</div>
<div class="t" style="font-size:37.8px;left:95.00px;top:2294.00px;transform:scaleX(0.9950);">win (75%, 60%, 40%, and 25%) or -50-point loss.</div>
<div class="t i" style="font-size:37.8px;left:95.00px;top:3313.00px;transform:scaleX(0.9785);">Figure 1. A: trial structure showing the data modelling</div>
<div class="t i" style="font-size:37.8px;left:95.00px;top:3357.00px;transform:scaleX(0.9467);">epochs; B: task phases across testing session</div>
<div class="t b" style="font-size:44px;left:1224.50px;top:640.00px;transform:scaleX(1.0221);">Functional Data Acquisition</div>
<div class="t" style="font-size:37.8px;left:1224.50px;top:699.00px;transform:scaleX(1.0060);">Data were collected in CINN using a Siemens Trio 3T MRI</div>
<div class="t" style="font-size:37.8px;left:1224.50px;top:744.00px;transform:scaleX(1.0267);">scanner with a 32-channel array head coil.</div>
<div class="t" style="font-size:37.8px;left:1224.50px;top:798.00px;transform:scaleX(1.0159);">A multi-band echo planar imaging (EPI) sequence was</div>
<div class="t" style="font-size:37.8px;left:1224.50px;top:843.00px;transform:scaleX(1.0368);">used to acquire data during the learning task (voxel</div>
<div class="t" style="font-size:37.8px;left:1224.50px;top:887.00px;transform:scaleX(1.0367);">resolution=1.8×1.8×1.8 mm; interleaved acquisition of 60</div>
<div class="t" style="font-size:37.8px;left:1224.50px;top:932.00px;transform:scaleX(1.0036);">axial slices; no slice gaps; matrix size=128×128,</div>
<div class="t" style="font-size:37.8px;left:1224.50px;top:977.00px;transform:scaleX(1.0207);">TE/TR=40/810 ms; flip angle 31°; multiband factor 6;</div>
<div class="t" style="font-size:37.8px;left:1224.50px;top:1022.00px;transform:scaleX(1.0351);">partial Fourier factor=1; bandwidth=1502 Hz/Pixel).</div>
<div class="t b" style="font-size:44px;left:1224.50px;top:1073.00px;transform:scaleX(0.9947);">Data Processing</div>
<div class="t" style="font-size:37.8px;left:1224.50px;top:1133.00px;transform:scaleX(1.0236);">The data of twenty healthy adults (10 female, 23 (4)</div>
<div class="t" style="font-size:37.8px;left:1224.50px;top:1178.00px;transform:scaleX(1.0154);">years of age) was included in this analysis.</div>
<div class="t" style="font-size:37.8px;left:1224.50px;top:1231.00px;transform:scaleX(1.0192);">Raw DICOM files were converted into BIDS format using</div>
<div class="t" style="font-size:37.8px;left:1224.50px;top:1276.00px;transform:scaleX(1.0180);">pyBIDSconv (Lindner, 2018) and subsequently pre-</div>
<div class="t" style="font-size:37.8px;left:1224.50px;top:1321.00px;transform:scaleX(1.0015);">processed using fMRIPrep (Esteban et al., 2019).</div>
<div class="t" style="font-size:37.8px;left:1224.50px;top:1374.00px;transform:scaleX(1.0326);">Striatal target ROIs were defined using five functional</div>
<div class="t" style="font-size:37.8px;left:1224.50px;top:1419.00px;transform:scaleX(1.0418);">subdivisions based on corticostriatal connectivity</div>
<div class="t" style="font-size:37.8px;left:1224.50px;top:1463.00px;transform:scaleX(1.0216);">patterns shown in Choi et al., 2012. The three associative</div>
<div class="t" style="font-size:37.8px;left:1224.50px;top:1508.00px;transform:scaleX(1.0477);">subdivisions in the caudate, extending into the anterior</div>
<div class="t" style="font-size:37.8px;left:1224.50px;top:1553.00px;transform:scaleX(1.0326);">putamen, were summed for ROI analysis of the</div>
<div class="t" style="font-size:37.8px;left:1224.50px;top:1598.00px;transform:scaleX(1.0402);">associative or dorsal striatum.</div>
<div class="t" style="font-size:37.8px;left:1224.50px;top:1651.00px;transform:scaleX(1.0165);">The mean ROI activation across the task was extracted</div>
<div class="t" style="font-size:37.8px;left:1224.50px;top:1696.00px;transform:scaleX(1.0609);">using nixtract (<span class="lk">https://github.com/danjgale/nixtract</span>).</div>
<div class="t" style="font-size:37.8px;left:1224.50px;top:1741.00px;transform:scaleX(1.0409);">Time-series data were standardized and detrended with</div>
<div class="t" style="font-size:37.8px;left:1224.50px;top:1785.00px;transform:scaleX(1.0411);">movement and CompCor confounds removed.</div>
<div class="t b" style="font-size:44px;left:1224.50px;top:1837.00px;transform:scaleX(1.0098);">Deconvolution Analysis</div>
<div class="t" style="font-size:37.8px;left:1224.50px;top:1898.00px;transform:scaleX(1.0359);">Deconvolution analysis was conducted using the python</div>
<div class="t" style="font-size:37.8px;left:1224.50px;top:1943.00px;transform:scaleX(1.0293);">package nideconv (<span class="lk">https://github.com/VU-Cog-</span></div>
<div class="t" style="font-size:37.8px;left:1224.50px;top:1987.00px;transform:scaleX(1.0351);"><span class="lk">Sci/nideconv</span>), which utilises the approach outlined by</div>
<div class="t" style="font-size:37.8px;left:1224.50px;top:2032.00px;transform:scaleX(1.0181);">Glover (1999) to deconvolve fMRI timeseries data.</div>
<div class="t" style="font-size:37.8px;left:1224.50px;top:2084.00px;transform:scaleX(1.0239);">In our general linear model (GLM) we used a Fourier</div>
<div class="t" style="font-size:37.8px;left:1224.50px;top:2129.00px;transform:scaleX(1.0302);">basis set (modelled by 9 regressors) and limited our task</div>
<div class="t" style="font-size:37.8px;left:1224.50px;top:2174.00px;transform:scaleX(1.0328);">regressors to the 2 events (trial epochs) of interest:</div>
<div class="t" style="font-size:37.8px;left:1226.50px;top:2228.00px;">•</div>
<div class="t" style="font-size:37.8px;left:1273.00px;top:2228.00px;transform:scaleX(1.0168);">Decision making epoch (DM)</div>
<div class="t" style="font-size:37.8px;left:1226.50px;top:2281.00px;">•</div>
<div class="t" style="font-size:37.8px;left:1273.00px;top:2281.00px;transform:scaleX(0.9789);">Feedback epoch (FB)</div>
<div class="t i" style="font-size:37.8px;left:1791.50px;top:2357.00px;transform:scaleX(0.9202);">Figure 2. Example HRF</div>
<div class="t i" style="font-size:37.8px;left:1791.50px;top:2402.00px;transform:scaleX(0.9701);">where the second local</div>
<div class="t i" style="font-size:37.8px;left:1791.50px;top:2447.00px;transform:scaleX(0.9473);">maxima (orange ‘x’) is</div>
<div class="t i" style="font-size:37.8px;left:1791.50px;top:2492.00px;transform:scaleX(0.9805);">identified as the peak</div>
<div class="t i" style="font-size:37.8px;left:1791.50px;top:2536.00px;transform:scaleX(0.9625);">based on largest peak</div>
<div class="t i" style="font-size:37.8px;left:1791.50px;top:2581.00px;transform:scaleX(0.9823);">prominence (vertical blue</div>
<div class="t i" style="font-size:37.8px;left:1791.50px;top:2626.00px;transform:scaleX(0.9363);">line), and FWHM is</div>
<div class="t i" style="font-size:37.8px;left:1791.50px;top:2671.00px;transform:scaleX(0.9723);">defined as the green line.</div>
<div class="t" style="font-size:37.8px;left:1224.50px;top:2790.00px;transform:scaleX(1.0200);">Subject HRF parameters were extracted using the signal</div>
<div class="t" style="font-size:37.8px;left:1224.50px;top:2835.00px;transform:scaleX(0.9993);">package in scypi (Virtanen et al., 2020) (Figure 2):</div>
<div class="t" style="font-size:37.8px;left:1226.50px;top:2887.00px;">•</div>
<div class="t" style="font-size:37.8px;left:1273.00px;top:2887.00px;transform:scaleX(1.0279);">Peak height was defined as the peak prominence</div>
<div class="t" style="font-size:37.8px;left:1273.00px;top:2932.00px;transform:scaleX(0.9950);">(function: <i>peak_prominence</i>).</div>
<div class="t" style="font-size:37.8px;left:1226.50px;top:2984.00px;">•</div>
<div class="t" style="font-size:37.8px;left:1273.00px;top:2984.00px;transform:scaleX(1.0287);">Time-to-peak (sec) was defined as the time from event</div>
<div class="t" style="font-size:37.8px;left:1273.00px;top:3029.00px;transform:scaleX(1.0178);">onset to the peak occurrence (function: <i>find_peaks</i>).</div>
<div class="t" style="font-size:37.8px;left:1226.50px;top:3082.00px;">•</div>
<div class="t" style="font-size:37.8px;left:1273.00px;top:3082.00px;transform:scaleX(1.0178);">Full width half maximum (FWHM, sec) was defined as</div>
<div class="t" style="font-size:37.8px;left:1273.00px;top:3127.00px;transform:scaleX(1.0599);">the width of the peak from the contour line at half the</div>
<div class="t" style="font-size:37.8px;left:1273.00px;top:3172.00px;transform:scaleX(1.0132);">peak height (function: <i>peak_width</i>).</div>
<div class="t" style="font-size:37.8px;left:1224.50px;top:3224.00px;transform:scaleX(1.0323);">Individual subject height, time-to-peak and FWHM were</div>
<div class="t" style="font-size:37.8px;left:1224.50px;top:3269.00px;transform:scaleX(1.0417);">compared between initial and reversal learning task</div>
<div class="t" style="font-size:37.8px;left:1224.50px;top:3314.00px;transform:scaleX(1.0276);">phases, using a two-tailed paired samples t-test,</div>
<div class="t" style="font-size:37.8px;left:1224.50px;top:3359.00px;transform:scaleX(1.0592);">Bonferroni corrected for multiple comparisons.</div>
<div class="t b w" style="font-size:48px;left:3355.00px;top:653.00px;transform:scaleX(0.9689);">Results</div>
<div class="t b" style="font-size:44px;left:2359.00px;top:740.00px;transform:scaleX(0.9789);">Group Level HRF Shape</div>
<div class="t i" style="font-size:37.8px;left:2359.00px;top:1994.00px;transform:scaleX(0.9721);">Figure 3. At the group level, there was a significant difference between initial vs reversal learning in the shape of the</div>
<div class="t i" style="font-size:37.8px;left:2359.00px;top:2039.00px;transform:scaleX(0.9704);">HRF, only in the bilateral caudate, during decision making (left) and feedback (right) epochs of the trial. Asterisk</div>
<div class="t i" style="font-size:37.8px;left:2359.00px;top:2084.00px;transform:scaleX(0.9747);">denotes non-overlapping 95% confidence internals.</div>
<div class="t b" style="font-size:44px;left:2359.00px;top:2158.00px;transform:scaleX(1.0049);">Subject Level HRF Parameter Estimates</div>
<div class="t i" style="font-size:37.8px;left:2356.00px;top:2762.00px;transform:scaleX(0.9742);">Figure 4. At the individual level, there were differences between initial vs reversal learning in the bilateral caudate in all 3</div>
<div class="t i" style="font-size:37.8px;left:2356.00px;top:2807.00px;transform:scaleX(0.9716);">subject-specific HRF parameters during decision making, and in time-to-peak during feedback. However, only time-to peak</div>
<div class="t i" style="font-size:37.8px;left:2356.00px;top:2852.00px;transform:scaleX(0.9805);">effects in the left caudate survived correction for multiple comparisons in both decision-making and feedback epochs. Error</div>
<div class="t i" style="font-size:37.8px;left:2356.00px;top:2897.00px;transform:scaleX(0.9792);">bars denote the standard deviation; asterisk denotes Bonferroni corrected paired-samples t-test significant at <span class="sf" style="font-size:105%">α</span>=0.05.</div>
<div class="t b w" style="font-size:48px;left:2731.00px;top:2994.00px;transform:scaleX(0.9337);">Conclusion</div>
<div class="t" style="font-size:37.8px;left:2357.50px;top:3084.00px;transform:scaleX(1.0400);">These results suggest that the differential neurochemical</div>
<div class="t" style="font-size:37.8px;left:2357.50px;top:3129.00px;transform:scaleX(1.0605);">modulation of functional striatal subdivisions during</div>
<div class="t" style="font-size:37.8px;left:2357.50px;top:3174.00px;transform:scaleX(1.0503);">different aspects of reinforcement learning may be</div>
<div class="t" style="font-size:37.8px;left:2357.50px;top:3219.00px;transform:scaleX(1.0089);">discernible using BOLD fMRI.</div>
<div class="t" style="font-size:37.8px;left:2357.50px;top:3271.00px;transform:scaleX(1.0321);">We interpret these observations as reflecting the CIN-</div>
<div class="t" style="font-size:37.8px;left:2357.50px;top:3316.00px;transform:scaleX(1.0527);">dependent inhibition of learnt DA-dependent pathways</div>
<div class="t" style="font-size:37.8px;left:2357.50px;top:3361.00px;transform:scaleX(1.0489);">and subsequent&nbsp; modulation of DA plasticity.</div>
<div class="t b w" style="font-size:48px;left:3898.50px;top:2998.00px;transform:scaleX(0.9504);">References</div>
<div class="t" style="font-size:24.4px;left:3530.50px;top:3086.00px;transform:scaleX(1.0437);">Bell, Tiffany, et al. "Orbitofrontal and thalamic influences on striatal involvement in</div>
<div class="t" style="font-size:24.4px;left:3568.00px;top:3117.00px;transform:scaleX(1.0076);">human reversal learning." <i>bioRxiv</i> (2019)</div>
<div class="t" style="font-size:24.4px;left:3530.50px;top:3149.00px;transform:scaleX(1.0344);">Bell, Tiffany, et al. "Functional neurochemical imaging of the human striatal cholinergic</div>
<div class="t" style="font-size:24.4px;left:3568.00px;top:3181.00px;transform:scaleX(0.9892);">system during reversal learning." <i>European Journal of Neuroscience</i> 47.10 (2018)</div>
<div class="t" style="font-size:24.4px;left:3530.50px;top:3212.00px;transform:scaleX(1.0204);">Esteban, Oscar, et al. "fMRIPrep: a robust preprocessing pipeline for functional MRI."</div>
<div class="t" style="font-size:24.4px;left:3568.00px;top:3244.00px;transform:scaleX(1.0206);">Nature methods 16.1 (2019)</div>
<div class="t" style="font-size:24.4px;left:3530.50px;top:3276.00px;transform:scaleX(1.0199);">Glover, Gary H. "Deconvolution of impulse response in event-related BOLD fMRI1."</div>
<div class="t" style="font-size:24.4px;left:3568.00px;top:3308.00px;transform:scaleX(1.0089);">Neuroimage 9.4 (1999)</div>
<div class="t" style="font-size:24.4px;left:3530.50px;top:3339.00px;transform:scaleX(1.0269);">Virtanen, Pauli, et al. "SciPy 1.0: fundamental algorithms for scientific computing in</div>
<div class="t" style="font-size:24.4px;left:3568.00px;top:3371.00px;transform:scaleX(1.0220);">Python." Nature methods 17.3 (2020)</div>
</div>
</body></html>
